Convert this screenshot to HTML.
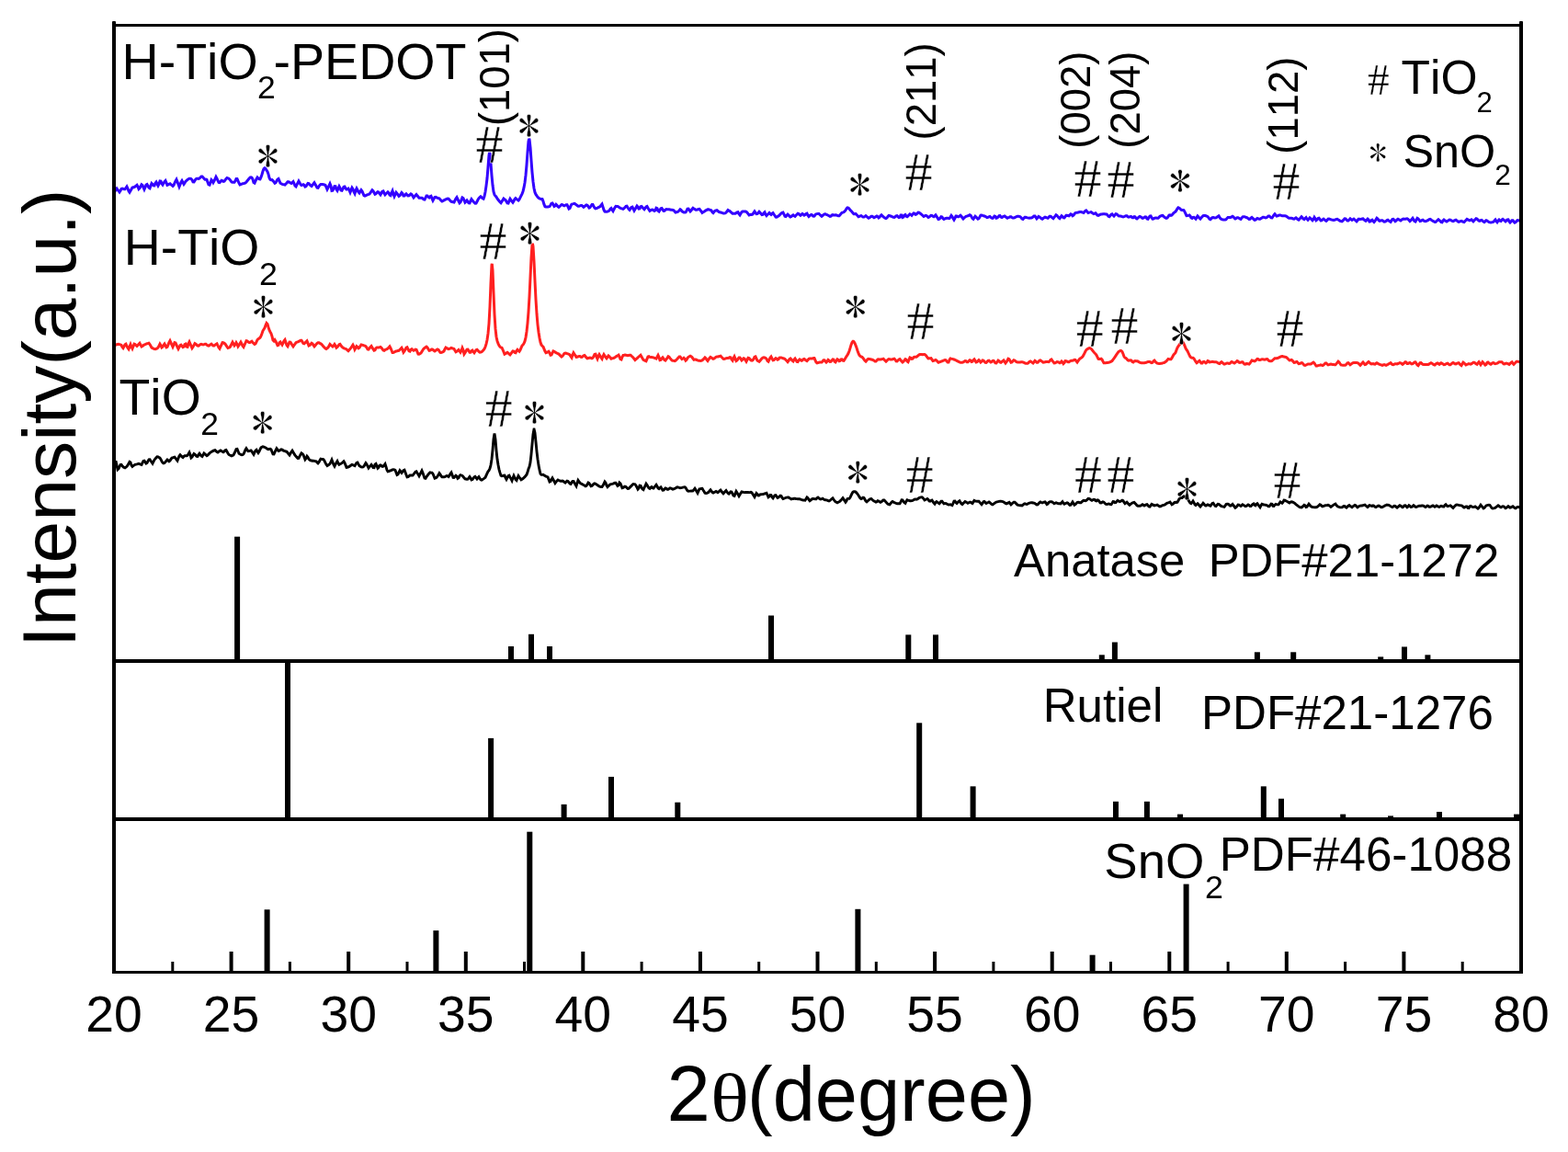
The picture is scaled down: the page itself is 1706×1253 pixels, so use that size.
<!DOCTYPE html><html><head><meta charset="utf-8"><title>XRD</title><style>html,body{margin:0;padding:0;background:#fff;}svg{display:block} text{font-kerning:none;font-feature-settings:"kern" 0;}</style></head><body>
<svg width="1706" height="1253" viewBox="0 0 1706 1253">
<rect x="0" y="0" width="1706" height="1253" fill="#fff"/>
<path d="M124.0,507.0L125.0,504.0L126.0,501.3L127.0,506.0L128.0,510.7L129.0,509.8L130.0,507.7L131.0,505.5L132.0,505.3L133.0,506.6L134.0,507.8L135.0,508.5L136.0,508.9L137.0,508.2L138.0,507.2L139.0,506.0L140.0,504.1L141.0,502.3L142.0,503.0L143.0,506.1L144.0,507.5L145.0,506.7L146.0,505.9L147.0,505.3L148.0,505.1L149.0,504.9L150.0,504.6L151.0,504.3L152.0,504.7L153.0,505.2L154.0,505.5L155.0,503.4L156.0,501.4L157.0,501.1L158.0,502.6L159.0,504.1L160.0,503.5L161.0,501.6L162.0,499.8L163.0,499.7L164.0,501.2L165.0,502.7L166.0,504.2L167.0,502.2L168.0,500.2L169.0,498.9L170.0,497.8L171.0,496.8L172.0,496.9L173.0,497.6L174.0,498.2L175.0,499.7L176.0,501.7L177.0,503.2L178.0,503.9L179.0,503.6L180.0,502.4L181.0,501.2L182.0,500.0L183.0,500.9L184.0,501.9L185.0,501.1L186.0,499.4L187.0,498.1L188.0,497.8L189.0,497.5L190.0,497.2L191.0,498.4L192.0,499.8L193.0,501.1L194.0,498.5L195.0,495.9L196.0,494.7L197.0,495.7L198.0,496.8L199.0,497.5L200.0,496.4L201.0,495.7L202.0,495.8L203.0,495.8L204.0,495.4L205.0,493.7L206.0,492.0L207.0,494.4L208.0,497.9L209.0,497.1L210.0,495.3L211.0,493.5L212.0,494.1L213.0,495.2L214.0,496.4L215.0,496.5L216.0,494.6L217.0,493.2L218.0,494.6L219.0,496.0L220.0,496.6L221.0,494.8L222.0,493.0L223.0,493.8L224.0,494.7L225.0,495.7L226.0,495.1L227.0,494.0L228.0,492.9L229.0,492.1L230.0,491.4L231.0,490.9L232.0,490.4L233.0,489.9L234.0,489.6L235.0,490.6L236.0,491.5L237.0,492.0L238.0,491.2L239.0,490.5L240.0,489.9L241.0,490.6L242.0,491.2L243.0,491.8L244.0,490.9L245.0,489.7L246.0,489.4L247.0,491.2L248.0,493.0L249.0,494.5L250.0,495.0L251.0,495.4L252.0,495.9L253.0,495.5L254.0,494.9L255.0,493.0L256.0,490.8L257.0,488.5L258.0,488.4L259.0,490.8L260.0,493.2L261.0,493.9L262.0,494.5L263.0,494.8L264.0,494.6L265.0,493.9L266.0,491.6L267.0,489.3L268.0,487.7L269.0,489.2L270.0,490.7L271.0,490.6L272.0,490.3L273.0,489.9L274.0,490.8L275.0,492.9L276.0,494.4L277.0,492.2L278.0,490.1L279.0,489.3L280.0,491.0L281.0,492.6L282.0,491.0L283.0,488.9L284.0,486.8L285.0,486.2L286.0,485.7L287.0,486.0L288.0,486.5L289.0,487.0L290.0,487.6L291.0,488.4L292.0,488.7L293.0,488.3L294.0,488.2L295.0,489.0L296.0,491.5L297.0,493.9L298.0,494.0L299.0,491.9L300.0,489.7L301.0,487.8L302.0,489.1L303.0,490.5L304.0,490.1L305.0,489.5L306.0,488.8L307.0,489.1L308.0,489.9L309.0,490.4L310.0,490.7L311.0,491.0L312.0,491.3L313.0,492.5L314.0,493.8L315.0,495.0L316.0,493.2L317.0,491.5L318.0,490.1L319.0,491.8L320.0,493.4L321.0,495.1L322.0,496.4L323.0,497.4L324.0,498.4L325.0,498.3L326.0,496.4L327.0,494.4L328.0,492.8L329.0,493.5L330.0,494.7L331.0,497.2L332.0,499.8L333.0,498.5L334.0,496.2L335.0,497.4L336.0,499.4L337.0,500.3L338.0,500.8L339.0,501.0L340.0,501.2L341.0,501.3L342.0,501.4L343.0,501.6L344.0,501.9L345.0,502.9L346.0,503.9L347.0,502.7L348.0,500.8L349.0,499.1L350.0,499.3L351.0,499.5L352.0,499.7L353.0,501.3L354.0,503.3L355.0,505.3L356.0,506.5L357.0,505.9L358.0,505.3L359.0,504.4L360.0,502.3L361.0,500.1L362.0,502.7L363.0,505.4L364.0,507.2L365.0,505.2L366.0,503.2L367.0,501.6L368.0,503.8L369.0,505.3L370.0,504.8L371.0,504.3L372.0,503.7L373.0,502.7L374.0,501.8L375.0,503.4L376.0,505.9L377.0,508.4L378.0,508.3L379.0,507.9L380.0,507.4L381.0,506.7L382.0,506.0L383.0,505.3L384.0,505.7L385.0,506.3L386.0,506.7L387.0,505.1L388.0,503.5L389.0,503.1L390.0,504.9L391.0,506.6L392.0,507.2L393.0,507.9L394.0,508.1L395.0,507.9L396.0,507.1L397.0,505.3L398.0,503.6L399.0,504.9L400.0,507.0L401.0,509.0L402.0,507.8L403.0,506.6L404.0,505.4L405.0,506.8L406.0,508.7L407.0,508.8L408.0,505.1L409.0,504.4L410.0,506.8L411.0,509.2L412.0,508.3L413.0,506.1L414.0,505.8L415.0,506.6L416.0,507.5L417.0,507.3L418.0,506.0L419.0,504.6L420.0,507.7L421.0,511.2L422.0,512.9L423.0,512.6L424.0,512.2L425.0,511.8L426.0,511.4L427.0,510.9L428.0,510.8L429.0,510.9L430.0,511.3L431.0,513.9L432.0,516.5L433.0,516.0L434.0,513.8L435.0,511.7L436.0,513.0L437.0,514.3L438.0,513.0L439.0,511.6L440.0,511.2L441.0,513.8L442.0,516.4L443.0,518.9L444.0,518.7L445.0,517.9L446.0,517.0L447.0,517.0L448.0,517.0L449.0,517.0L450.0,515.9L451.0,514.5L452.0,513.2L453.0,512.8L454.0,514.5L455.0,516.1L456.0,517.8L457.0,515.9L458.0,513.9L459.0,511.9L460.0,514.2L461.0,517.2L462.0,520.1L463.0,520.4L464.0,518.8L465.0,517.3L466.0,515.9L467.0,514.8L468.0,513.9L469.0,514.1L470.0,514.2L471.0,515.3L472.0,517.8L473.0,520.2L474.0,519.8L475.0,519.4L476.0,518.0L477.0,516.4L478.0,514.7L479.0,516.0L480.0,517.8L481.0,518.8L482.0,518.8L483.0,518.9L484.0,518.6L485.0,518.1L486.0,517.5L487.0,517.9L488.0,518.6L489.0,517.2L490.0,515.2L491.0,513.9L492.0,516.6L493.0,519.3L494.0,519.4L495.0,518.3L496.0,517.2L497.0,518.1L498.0,520.4L499.0,519.8L500.0,517.5L501.0,516.6L502.0,517.0L503.0,517.4L504.0,518.5L505.0,519.8L506.0,520.8L507.0,521.0L508.0,521.3L509.0,521.2L510.0,519.9L511.0,518.5L512.0,520.0L513.0,521.9L514.0,521.5L515.0,520.2L516.0,518.9L517.0,518.3L518.0,519.6L519.0,521.0L520.0,519.8L521.0,518.7L522.0,520.2L523.0,521.8L524.0,522.1L525.0,521.5L526.0,520.9L527.0,520.2L528.0,519.3L529.0,517.1L530.0,514.9L531.0,512.9L532.0,511.7L533.0,509.5L534.0,505.8L535.0,499.4L536.0,489.6L537.0,477.7L538.0,471.5L539.0,478.0L540.0,489.8L541.0,499.3L542.0,505.6L543.0,510.6L544.0,514.2L545.0,517.2L546.0,517.8L547.0,517.6L548.0,517.2L549.0,517.1L550.0,519.6L551.0,521.4L552.0,519.6L553.0,517.6L554.0,517.1L555.0,519.1L556.0,520.9L557.0,522.8L558.0,519.9L559.0,517.4L560.0,519.5L561.0,521.5L562.0,522.4L563.0,519.7L564.0,517.5L565.0,519.0L566.0,520.4L567.0,521.8L568.0,521.2L569.0,520.5L570.0,519.6L571.0,518.7L572.0,517.6L573.0,516.2L574.0,513.6L575.0,510.0L576.0,507.5L577.0,503.1L578.0,494.2L579.0,483.2L580.0,472.4L581.0,466.9L581.1,466.9L582.0,470.7L583.0,480.7L584.0,491.1L585.0,499.4L586.0,506.1L587.0,511.2L588.0,515.3L589.0,516.4L590.0,516.4L591.0,516.3L592.0,517.0L593.0,517.5L594.0,518.1L595.0,518.5L596.0,518.9L597.0,521.4L598.0,524.0L599.0,523.6L600.0,521.5L601.0,519.9L602.0,521.7L603.0,523.6L604.0,525.5L605.0,524.2L606.0,522.9L607.0,522.0L608.0,522.5L609.0,522.9L610.0,523.3L611.0,523.2L612.0,523.0L613.0,523.4L614.0,524.5L615.0,525.2L616.0,524.1L617.0,523.1L618.0,523.5L619.0,524.7L620.0,526.0L621.0,526.4L622.0,524.9L623.0,523.4L624.0,523.4L625.0,525.2L626.0,526.9L627.0,528.6L628.0,525.3L629.0,522.4L630.0,523.8L631.0,525.2L632.0,526.0L633.0,526.4L634.0,526.9L635.0,527.5L636.0,528.1L637.0,528.8L638.0,528.3L639.0,526.7L640.0,525.1L641.0,525.7L642.0,527.2L643.0,528.7L644.0,528.4L645.0,527.4L646.0,526.3L647.0,525.8L648.0,526.3L649.0,526.9L650.0,527.5L651.0,528.3L652.0,529.0L653.0,529.4L654.0,529.5L655.0,529.5L656.0,528.1L657.0,526.1L658.0,524.0L659.0,525.3L660.0,528.1L661.0,529.7L662.0,528.6L663.0,527.6L664.0,526.8L665.0,526.6L666.0,526.4L667.0,526.1L668.0,525.7L669.0,525.3L670.0,525.3L671.0,526.9L672.0,528.5L673.0,527.9L674.0,525.0L675.0,525.8L676.0,528.3L677.0,530.8L678.0,530.5L679.0,529.8L680.0,529.1L681.0,529.4L682.0,530.5L683.0,531.5L684.0,531.3L685.0,530.4L686.0,529.4L687.0,528.4L688.0,527.3L689.0,526.5L690.0,526.6L691.0,526.8L692.0,528.2L693.0,530.1L694.0,532.1L695.0,531.0L696.0,528.1L697.0,528.3L698.0,530.2L699.0,532.0L700.0,532.6L701.0,530.4L702.0,528.3L703.0,526.1L704.0,527.5L705.0,529.3L706.0,531.0L707.0,531.5L708.0,530.1L709.0,529.6L710.0,530.8L711.0,531.1L712.0,529.9L713.0,528.6L714.0,527.3L715.0,529.0L716.0,531.0L717.0,531.6L718.0,530.6L719.0,529.9L720.0,531.5L721.0,533.1L722.0,533.0L723.0,531.9L724.0,530.9L725.0,531.2L726.0,532.2L727.0,532.2L728.0,531.6L729.0,530.9L730.0,531.2L731.0,531.6L732.0,532.1L733.0,531.8L734.0,531.4L735.0,531.0L736.0,530.3L737.0,529.7L738.0,530.0L739.0,530.4L740.0,530.7L741.0,530.6L742.0,530.4L743.0,530.1L744.0,529.9L745.0,529.8L746.0,530.6L747.0,532.2L748.0,533.8L749.0,534.2L750.0,534.1L751.0,534.1L752.0,534.0L753.0,534.0L754.0,533.9L755.0,532.5L756.0,531.2L757.0,532.7L758.0,534.6L759.0,536.3L760.0,534.1L761.0,531.9L762.0,531.7L763.0,531.4L764.0,531.3L765.0,533.0L766.0,534.6L767.0,536.3L768.0,536.6L769.0,536.3L770.0,535.9L771.0,535.3L772.0,533.8L773.0,532.8L774.0,534.1L775.0,535.4L776.0,536.1L777.0,535.5L778.0,534.9L779.0,534.4L780.0,535.0L781.0,535.7L782.0,535.0L783.0,533.9L784.0,533.1L785.0,534.4L786.0,535.7L787.0,536.8L788.0,535.7L789.0,534.6L790.0,533.5L791.0,535.0L792.0,536.5L793.0,537.1L794.0,536.0L795.0,534.9L796.0,535.1L797.0,537.1L798.0,539.1L799.0,539.4L800.0,536.9L801.0,534.4L802.0,536.0L803.0,537.9L804.0,539.7L805.0,538.0L806.0,536.3L807.0,534.9L808.0,535.1L809.0,535.4L810.0,535.6L811.0,535.5L812.0,535.5L813.0,535.5L814.0,535.5L815.0,535.6L816.0,535.5L817.0,535.3L818.0,535.8L819.0,537.4L820.0,538.9L821.0,540.5L822.0,538.6L823.0,536.5L824.0,537.4L825.0,539.0L826.0,538.8L827.0,537.8L828.0,537.7L829.0,537.6L830.0,537.5L831.0,537.3L832.0,536.9L833.0,536.6L834.0,536.3L835.0,538.5L836.0,540.8L837.0,540.1L838.0,538.3L839.0,538.5L840.0,540.8L841.0,541.9L842.0,540.3L843.0,538.8L844.0,538.6L845.0,540.0L846.0,541.4L847.0,541.0L848.0,540.0L849.0,539.1L850.0,539.5L851.0,541.4L852.0,542.6L853.0,542.2L854.0,541.8L855.0,541.3L856.0,541.1L857.0,541.0L858.0,541.0L859.0,541.7L860.0,542.3L861.0,542.9L862.0,542.7L863.0,542.5L864.0,542.3L865.0,542.3L866.0,542.5L867.0,542.6L868.0,542.7L869.0,542.8L870.0,542.8L871.0,543.1L872.0,543.5L873.0,543.9L874.0,544.0L875.0,544.1L876.0,544.2L877.0,542.6L878.0,540.9L879.0,541.8L880.0,543.4L881.0,544.7L882.0,544.0L883.0,543.2L884.0,542.5L885.0,542.4L886.0,542.6L887.0,542.9L888.0,542.8L889.0,541.6L890.0,541.0L891.0,541.8L892.0,542.6L893.0,542.9L894.0,542.6L895.0,542.2L896.0,542.9L897.0,543.6L898.0,543.7L899.0,543.8L900.0,544.2L901.0,544.6L902.0,545.0L903.0,544.4L904.0,543.5L905.0,542.5L906.0,541.8L907.0,543.3L908.0,544.7L909.0,545.8L910.0,546.3L911.0,546.8L912.0,546.3L913.0,545.8L914.0,545.1L915.0,544.0L916.0,542.9L917.0,541.7L918.0,543.1L919.0,544.6L920.0,546.1L921.0,544.7L922.0,542.5L923.0,542.4L924.0,542.4L925.0,541.0L926.0,538.9L927.0,536.8L928.0,535.2L929.0,534.7L930.0,534.7L931.0,535.1L932.0,536.1L933.0,537.3L934.0,538.8L935.0,540.4L936.0,541.9L937.0,542.6L938.0,542.0L939.0,541.1L940.0,541.5L941.0,543.3L942.0,545.1L943.0,545.9L944.0,545.0L945.0,544.0L946.0,543.2L947.0,542.6L948.0,542.5L949.0,543.5L950.0,544.4L951.0,545.0L952.0,545.6L953.0,546.2L954.0,545.8L955.0,544.7L956.0,545.1L957.0,545.7L958.0,546.3L959.0,545.8L960.0,544.9L961.0,544.0L962.0,543.9L963.0,545.0L964.0,546.1L965.0,547.3L966.0,548.2L967.0,548.5L968.0,548.8L969.0,547.7L970.0,546.2L971.0,545.4L972.0,546.0L973.0,546.6L974.0,547.0L975.0,547.4L976.0,547.7L977.0,547.7L978.0,547.7L979.0,547.7L980.0,546.1L981.0,543.9L982.0,544.0L983.0,545.3L984.0,546.6L985.0,547.3L986.0,545.2L987.0,543.7L988.0,544.1L989.0,544.4L990.0,544.7L991.0,544.7L992.0,544.6L993.0,544.3L994.0,543.8L995.0,543.2L996.0,542.9L997.0,543.2L998.0,542.9L999.0,542.2L1000.0,541.5L1001.0,541.1L1002.0,540.9L1003.0,540.7L1003.9,541.4L1004.0,541.5L1005.0,542.6L1006.0,543.9L1007.0,543.5L1008.0,543.0L1009.0,542.5L1010.0,543.4L1011.0,544.9L1012.0,545.2L1013.0,544.6L1014.0,544.1L1015.0,545.6L1016.0,547.1L1017.0,548.1L1018.0,546.5L1019.0,545.6L1020.0,546.3L1021.0,547.1L1022.0,547.8L1023.0,546.5L1024.0,545.2L1025.0,545.2L1026.0,546.7L1027.0,547.9L1028.0,547.7L1029.0,547.5L1030.0,548.0L1031.0,548.6L1032.0,549.1L1033.0,548.9L1034.0,548.8L1035.0,549.2L1036.0,549.6L1037.0,547.5L1038.0,545.1L1039.0,545.0L1040.0,546.6L1041.0,547.5L1042.0,546.4L1043.0,545.4L1044.0,544.8L1045.0,546.4L1046.0,547.9L1047.0,548.6L1048.0,547.5L1049.0,546.5L1050.0,545.5L1051.0,546.0L1052.0,546.6L1053.0,547.3L1054.0,546.8L1055.0,546.2L1056.0,546.2L1057.0,547.0L1058.0,547.5L1059.0,545.9L1060.0,544.4L1061.0,544.8L1062.0,545.1L1063.0,545.2L1064.0,545.3L1065.0,545.3L1066.0,546.4L1067.0,547.6L1068.0,548.7L1069.0,547.4L1070.0,545.8L1071.0,545.5L1072.0,546.5L1073.0,547.4L1074.0,546.9L1075.0,546.5L1076.0,546.0L1077.0,546.7L1078.0,547.6L1079.0,548.5L1080.0,548.9L1081.0,548.2L1082.0,547.4L1083.0,546.6L1084.0,546.0L1085.0,545.8L1086.0,545.6L1087.0,545.4L1088.0,545.3L1089.0,545.3L1090.0,545.4L1091.0,545.7L1092.0,546.0L1093.0,546.7L1094.0,547.4L1095.0,547.9L1096.0,547.4L1097.0,546.9L1098.0,546.3L1099.0,547.5L1100.0,548.8L1101.0,547.9L1102.0,547.0L1103.0,546.1L1104.0,546.1L1105.0,547.1L1106.0,548.1L1107.0,549.1L1108.0,549.4L1109.0,549.6L1110.0,549.7L1111.0,549.8L1112.0,549.9L1113.0,549.2L1114.0,548.1L1115.0,547.7L1116.0,548.1L1117.0,548.4L1118.0,548.1L1119.0,547.5L1120.0,547.1L1121.0,546.9L1122.0,546.7L1123.0,546.8L1124.0,547.0L1125.0,547.2L1126.0,547.5L1127.0,548.3L1128.0,549.0L1129.0,548.8L1130.0,547.7L1131.0,546.7L1132.0,546.0L1133.0,546.5L1134.0,546.9L1135.0,546.5L1136.0,546.1L1137.0,545.8L1138.0,546.9L1139.0,548.6L1140.0,548.1L1141.0,546.6L1142.0,545.9L1143.0,545.8L1144.0,545.8L1145.0,546.1L1146.0,547.0L1147.0,547.8L1148.0,547.3L1149.0,546.8L1150.0,547.2L1151.0,547.5L1152.0,547.7L1153.0,547.8L1154.0,547.9L1155.0,546.8L1156.0,545.7L1157.0,547.2L1158.0,548.3L1159.0,547.8L1160.0,547.3L1161.0,546.8L1162.0,547.3L1163.0,548.4L1164.0,549.4L1165.0,549.2L1166.0,547.5L1167.0,545.9L1168.0,547.5L1169.0,549.2L1170.0,548.6L1171.0,547.6L1172.0,546.5L1173.0,546.2L1174.0,546.5L1175.0,546.8L1176.0,546.8L1177.0,545.9L1178.0,544.9L1179.0,544.3L1180.0,544.5L1181.0,544.7L1182.0,544.3L1183.0,543.2L1184.0,542.2L1185.0,542.4L1186.0,543.0L1186.5,543.4L1187.0,543.7L1188.0,544.3L1189.0,543.7L1190.0,543.2L1191.0,543.4L1192.0,544.7L1193.0,544.9L1194.0,543.8L1195.0,544.1L1196.0,545.4L1197.0,546.8L1198.0,546.9L1199.0,546.4L1200.0,545.9L1201.0,546.2L1202.0,547.2L1203.0,548.2L1204.0,548.5L1205.0,548.3L1206.0,548.0L1207.0,548.1L1208.0,548.7L1209.0,548.8L1210.0,547.2L1211.0,545.5L1212.0,545.7L1213.0,546.7L1214.0,546.6L1215.0,545.4L1216.0,544.3L1217.0,544.9L1218.0,545.6L1219.0,545.4L1220.0,544.7L1221.0,544.2L1222.0,544.6L1223.0,546.5L1224.0,547.7L1225.0,546.9L1226.0,546.2L1227.0,547.3L1228.0,548.4L1229.0,549.3L1230.0,548.5L1231.0,547.6L1232.0,547.0L1233.0,546.6L1234.0,546.4L1235.0,547.5L1236.0,548.6L1237.0,549.7L1238.0,550.2L1239.0,550.2L1240.0,550.3L1241.0,550.2L1242.0,549.4L1243.0,548.7L1244.0,549.3L1245.0,550.0L1246.0,549.5L1247.0,548.9L1248.0,548.6L1249.0,549.7L1250.0,550.9L1251.0,551.1L1252.0,549.8L1253.0,548.4L1254.0,548.9L1255.0,549.4L1256.0,549.9L1257.0,549.6L1258.0,549.4L1259.0,549.1L1260.0,549.8L1261.0,550.4L1262.0,551.0L1263.0,550.7L1264.0,550.1L1265.0,549.7L1266.0,549.4L1267.0,549.2L1268.0,548.5L1269.0,547.6L1270.0,547.1L1271.0,546.9L1272.0,546.5L1273.0,546.1L1274.0,547.3L1275.0,548.8L1276.0,548.3L1277.0,547.4L1278.0,546.4L1279.0,546.3L1280.0,546.5L1281.0,546.2L1282.0,544.5L1283.0,542.7L1284.0,541.8L1285.0,541.6L1286.0,541.6L1287.0,540.6L1287.8,539.9L1288.0,539.8L1289.0,540.1L1290.0,541.0L1291.0,541.8L1292.0,542.6L1293.0,544.0L1294.0,545.6L1295.0,547.1L1296.0,547.7L1297.0,546.5L1298.0,545.0L1299.0,546.7L1300.0,548.7L1301.0,549.5L1302.0,548.5L1303.0,547.7L1304.0,548.8L1305.0,549.9L1306.0,551.0L1307.0,549.8L1308.0,548.6L1309.0,547.3L1310.0,548.3L1311.0,549.6L1312.0,550.1L1313.0,549.4L1314.0,548.8L1315.0,549.2L1316.0,549.9L1317.0,550.2L1318.0,548.9L1319.0,547.6L1320.0,547.3L1321.0,548.8L1322.0,550.2L1323.0,550.5L1324.0,549.4L1325.0,548.3L1326.0,548.4L1327.0,549.2L1328.0,550.0L1329.0,550.6L1330.0,550.9L1331.0,551.1L1332.0,551.4L1333.0,550.2L1334.0,548.5L1335.0,548.2L1336.0,548.2L1337.0,548.6L1338.0,549.9L1339.0,550.2L1340.0,549.3L1341.0,548.4L1342.0,549.7L1343.0,551.0L1344.0,552.3L1345.0,551.7L1346.0,550.4L1347.0,549.1L1348.0,549.2L1349.0,549.9L1350.0,550.5L1351.0,549.7L1352.0,548.8L1353.0,549.4L1354.0,550.1L1355.0,550.7L1356.0,550.4L1357.0,549.7L1358.0,549.0L1359.0,549.5L1360.0,550.5L1361.0,550.5L1362.0,549.5L1363.0,548.4L1364.0,547.9L1365.0,549.4L1366.0,549.9L1367.0,548.4L1368.0,547.7L1369.0,549.0L1370.0,550.4L1371.0,551.7L1372.0,549.8L1373.0,548.2L1374.0,548.6L1375.0,549.0L1376.0,549.1L1377.0,549.2L1378.0,549.5L1379.0,550.1L1380.0,550.7L1381.0,550.7L1382.0,549.4L1383.0,548.1L1384.0,548.3L1385.0,550.4L1386.0,550.5L1387.0,549.2L1388.0,548.4L1389.0,548.7L1390.0,548.9L1391.0,548.8L1392.0,547.3L1393.0,545.9L1394.0,546.4L1395.0,547.3L1396.0,546.2L1397.0,544.0L1398.0,544.1L1398.6,544.5L1399.0,544.7L1400.0,545.3L1401.0,545.8L1402.0,546.4L1403.0,547.0L1404.0,546.2L1405.0,545.7L1406.0,546.0L1407.0,546.3L1408.0,546.9L1409.0,547.7L1410.0,548.6L1411.0,549.4L1412.0,550.2L1413.0,550.9L1414.0,551.6L1415.0,551.8L1416.0,551.9L1417.0,551.3L1418.0,550.3L1419.0,549.3L1420.0,549.9L1421.0,551.5L1422.0,551.2L1423.0,549.7L1424.0,548.2L1425.0,549.3L1426.0,550.6L1427.0,551.2L1428.0,551.5L1429.0,551.7L1430.0,551.9L1431.0,551.8L1432.0,551.7L1433.0,551.5L1434.0,550.7L1435.0,549.7L1436.0,548.7L1437.0,549.2L1438.0,550.3L1439.0,550.9L1440.0,550.5L1441.0,550.1L1442.0,549.7L1443.0,549.6L1444.0,549.5L1445.0,549.3L1446.0,549.7L1447.0,550.5L1448.0,551.4L1449.0,550.6L1450.0,549.8L1451.0,549.1L1452.0,548.5L1453.0,548.1L1454.0,549.5L1455.0,550.6L1456.0,551.1L1457.0,551.5L1458.0,551.9L1459.0,551.9L1460.0,551.9L1461.0,551.2L1462.0,550.5L1463.0,550.4L1464.0,551.6L1465.0,552.2L1466.0,551.1L1467.0,550.1L1468.0,549.5L1469.0,550.3L1470.0,551.1L1471.0,551.7L1472.0,550.9L1473.0,550.1L1474.0,549.4L1475.0,549.8L1476.0,550.9L1477.0,551.8L1478.0,551.1L1479.0,550.4L1480.0,550.1L1481.0,550.0L1482.0,550.0L1483.0,549.7L1484.0,549.4L1485.0,549.1L1486.0,550.0L1487.0,550.8L1488.0,551.6L1489.0,550.8L1490.0,549.6L1491.0,549.8L1492.0,550.3L1493.0,550.4L1494.0,549.9L1495.0,550.2L1496.0,551.2L1497.0,551.7L1498.0,551.1L1499.0,550.4L1500.0,550.0L1501.0,550.6L1502.0,551.2L1503.0,551.8L1504.0,551.6L1505.0,551.0L1506.0,550.5L1507.0,549.9L1508.0,549.5L1509.0,549.1L1510.0,549.3L1511.0,549.4L1512.0,549.9L1513.0,550.6L1514.0,551.3L1515.0,551.6L1516.0,550.9L1517.0,550.2L1518.0,550.4L1519.0,551.4L1520.0,552.1L1521.0,551.3L1522.0,550.5L1523.0,549.7L1524.0,550.3L1525.0,551.0L1526.0,551.7L1527.0,551.2L1528.0,549.8L1529.0,549.7L1530.0,550.8L1531.0,551.8L1532.0,551.0L1533.0,549.7L1534.0,550.3L1535.0,551.5L1536.0,551.4L1537.0,550.6L1538.0,549.7L1539.0,550.4L1540.0,551.4L1541.0,551.5L1542.0,551.0L1543.0,550.5L1544.0,550.2L1545.0,550.2L1546.0,550.2L1547.0,550.0L1548.0,549.9L1549.0,550.3L1550.0,551.0L1551.0,551.6L1552.0,550.9L1553.0,550.0L1554.0,550.2L1555.0,551.4L1556.0,551.4L1557.0,550.9L1558.0,550.3L1559.0,549.9L1560.0,550.6L1561.0,551.3L1562.0,550.7L1563.0,550.0L1564.0,550.5L1565.0,551.2L1566.0,551.5L1567.0,550.7L1568.0,550.3L1569.0,550.6L1570.0,551.0L1571.0,551.0L1572.0,549.5L1573.0,548.7L1574.0,550.0L1575.0,550.7L1576.0,550.4L1577.0,550.2L1578.0,549.9L1579.0,550.7L1580.0,551.6L1581.0,552.4L1582.0,551.3L1583.0,550.3L1584.0,549.3L1585.0,549.0L1586.0,549.2L1587.0,549.4L1588.0,549.6L1589.0,549.8L1590.0,549.9L1591.0,550.2L1592.0,551.4L1593.0,552.1L1594.0,551.5L1595.0,550.9L1596.0,550.9L1597.0,552.4L1598.0,552.6L1599.0,550.9L1600.0,550.4L1601.0,550.9L1602.0,551.3L1603.0,551.6L1604.0,551.3L1605.0,550.9L1606.0,551.6L1607.0,552.4L1608.0,553.2L1609.0,552.3L1610.0,550.7L1611.0,549.2L1612.0,550.4L1613.0,551.7L1614.0,552.9L1615.0,552.3L1616.0,551.1L1617.0,549.9L1618.0,549.6L1619.0,549.4L1620.0,549.2L1621.0,549.5L1622.0,551.0L1623.0,552.5L1624.0,553.0L1625.0,552.8L1626.0,552.6L1627.0,552.2L1628.0,551.4L1629.0,550.6L1630.0,549.8L1631.0,550.5L1632.0,551.3L1633.0,551.8L1634.0,551.2L1635.0,550.7L1636.0,550.8L1637.0,551.7L1638.0,552.7L1639.0,552.2L1640.0,551.4L1641.0,550.6L1642.0,551.3L1643.0,552.2L1644.0,551.9L1645.0,551.3L1646.0,550.8L1647.0,551.6L1648.0,552.4L1649.0,552.9L1650.0,552.2L1651.0,551.4L1652.0,551.5L1653.0,551.8L1654.0,551.6L1655.0,551.1" fill="none" stroke="#000000" stroke-width="2.9" stroke-linejoin="miter" stroke-miterlimit="3"/>
<path d="M124.0,376.7L125.0,375.9L126.0,375.1L127.0,374.7L128.0,374.4L129.0,374.3L130.0,374.6L131.0,374.9L132.0,375.4L133.0,377.3L134.0,378.5L135.0,376.7L136.0,374.9L137.0,374.2L138.0,376.3L139.0,378.4L140.0,379.7L141.0,377.1L142.0,374.6L143.0,377.2L144.0,379.2L145.0,376.7L146.0,374.2L147.0,374.6L148.0,375.5L149.0,376.4L150.0,375.5L151.0,374.3L152.0,373.3L153.0,375.1L154.0,377.0L155.0,376.4L156.0,375.6L157.0,375.0L158.0,374.5L159.0,374.1L160.0,373.7L161.0,373.5L162.0,373.2L163.0,374.6L164.0,376.3L165.0,378.1L166.0,378.7L167.0,379.2L168.0,379.6L169.0,379.8L170.0,379.3L171.0,378.9L172.0,378.0L173.0,376.1L174.0,374.1L175.0,375.6L176.0,378.0L177.0,377.3L178.0,375.2L179.0,374.0L180.0,375.9L181.0,377.8L182.0,377.4L183.0,374.9L184.0,372.5L185.0,370.6L186.0,372.9L187.0,375.1L188.0,377.3L189.0,375.1L190.0,372.6L191.0,372.9L192.0,375.2L193.0,377.5L194.0,379.5L195.0,377.6L196.0,375.7L197.0,375.2L198.0,376.4L199.0,377.6L200.0,377.2L201.0,374.5L202.0,374.0L203.0,377.0L204.0,377.3L205.0,373.8L206.0,371.8L207.0,374.1L208.0,376.4L209.0,378.7L210.0,377.3L211.0,375.4L212.0,373.5L213.0,374.1L214.0,375.1L215.0,376.1L216.0,376.2L217.0,375.4L218.0,374.6L219.0,374.4L220.0,374.6L221.0,374.9L222.0,374.6L223.0,374.2L224.0,374.3L225.0,375.1L226.0,375.9L227.0,376.1L228.0,375.4L229.0,374.8L230.0,374.2L231.0,375.1L232.0,376.0L233.0,376.0L234.0,375.2L235.0,374.4L236.0,373.8L237.0,375.8L238.0,377.9L239.0,379.2L240.0,377.0L241.0,374.8L242.0,372.6L243.0,372.8L244.0,373.3L245.0,374.1L246.0,375.6L247.0,377.1L248.0,378.4L249.0,378.1L250.0,377.7L251.0,376.2L252.0,374.2L253.0,372.2L254.0,374.0L255.0,375.8L256.0,374.6L257.0,372.6L258.0,374.3L259.0,376.9L260.0,375.5L261.0,373.8L262.0,372.1L263.0,373.9L264.0,376.2L265.0,377.4L266.0,375.2L267.0,373.0L268.0,370.8L269.0,371.0L270.0,371.8L271.0,372.5L272.0,372.5L273.0,371.8L274.0,371.2L275.0,372.4L276.0,373.5L277.0,374.5L278.0,374.0L279.0,371.9L280.0,369.7L281.0,368.7L282.0,368.1L283.0,367.2L284.0,365.4L285.0,362.7L286.0,359.8L287.0,358.2L288.0,356.7L289.0,353.7L290.0,351.4L291.0,352.5L292.0,355.9L293.0,359.0L294.0,361.0L295.0,362.8L296.0,365.9L297.0,370.0L298.0,371.0L299.0,369.6L300.0,371.2L301.0,373.5L302.0,375.7L303.0,375.4L304.0,372.6L305.0,371.9L306.0,373.5L307.0,375.0L308.0,373.1L309.0,370.8L310.0,369.6L311.0,372.5L312.0,375.4L313.0,376.6L314.0,374.3L315.0,372.0L316.0,372.1L317.0,373.7L318.0,375.4L319.0,376.8L320.0,375.4L321.0,374.1L322.0,372.7L323.0,372.2L324.0,371.8L325.0,371.3L326.0,370.8L327.0,370.3L328.0,370.3L329.0,371.9L330.0,373.5L331.0,373.8L332.0,372.8L333.0,371.9L334.0,370.9L335.0,373.4L336.0,376.0L337.0,375.6L338.0,374.4L339.0,373.2L340.0,373.9L341.0,375.4L342.0,376.8L343.0,375.7L344.0,374.4L345.0,373.5L346.0,372.7L347.0,372.8L348.0,373.4L349.0,373.9L350.0,374.6L351.0,375.8L352.0,376.9L353.0,378.0L354.0,378.9L355.0,379.4L356.0,378.7L357.0,378.0L358.0,376.2L359.0,374.4L360.0,375.3L361.0,376.1L362.0,377.0L363.0,376.0L364.0,374.5L365.0,375.9L366.0,378.2L367.0,377.4L368.0,376.1L369.0,374.8L370.0,374.4L371.0,375.8L372.0,377.2L373.0,378.0L374.0,378.6L375.0,379.1L376.0,379.3L377.0,379.9L378.0,380.8L379.0,381.7L380.0,380.6L381.0,379.4L382.0,378.1L383.0,376.7L384.0,375.2L385.0,377.1L386.0,380.2L387.0,378.6L388.0,376.6L389.0,377.5L390.0,378.8L391.0,378.1L392.0,376.5L393.0,375.0L394.0,375.2L395.0,375.4L396.0,375.8L397.0,376.2L398.0,376.6L399.0,378.1L400.0,379.8L401.0,380.0L402.0,378.7L403.0,377.5L404.0,376.5L405.0,378.1L406.0,379.7L407.0,381.2L408.0,380.8L409.0,378.7L410.0,378.0L411.0,378.1L412.0,378.0L413.0,377.8L414.0,377.5L415.0,378.3L416.0,379.6L417.0,381.0L418.0,381.3L419.0,380.5L420.0,380.0L421.0,379.6L422.0,379.0L423.0,377.9L424.0,376.8L425.0,378.6L426.0,381.0L427.0,383.5L428.0,383.5L429.0,383.0L430.0,382.4L431.0,382.0L432.0,381.8L433.0,381.5L434.0,381.3L435.0,380.3L436.0,379.4L437.0,378.4L438.0,380.4L439.0,383.2L440.0,381.9L441.0,380.1L442.0,378.2L443.0,377.7L444.0,379.8L445.0,381.8L446.0,382.1L447.0,380.2L448.0,379.6L449.0,380.7L450.0,381.3L451.0,380.7L452.0,380.0L453.0,380.2L454.0,382.6L455.0,385.0L456.0,385.1L457.0,384.7L458.0,384.0L459.0,382.4L460.0,380.8L461.0,379.2L462.0,378.5L463.0,377.8L464.0,377.1L465.0,378.0L466.0,379.7L467.0,381.3L468.0,381.0L469.0,380.4L470.0,379.9L471.0,380.3L472.0,381.2L473.0,381.9L474.0,381.2L475.0,380.5L476.0,379.9L477.0,380.4L478.0,381.9L479.0,383.3L480.0,383.5L481.0,383.1L482.0,382.6L483.0,381.9L484.0,379.6L485.0,378.0L486.0,378.6L487.0,379.1L488.0,379.7L489.0,379.3L490.0,378.9L491.0,378.4L492.0,378.8L493.0,379.1L494.0,379.5L495.0,381.2L496.0,382.8L497.0,382.3L498.0,381.4L499.0,380.5L500.0,381.9L501.0,383.3L502.0,381.5L503.0,378.5L504.0,380.8L505.0,385.1L506.0,383.7L507.0,381.9L508.0,380.1L509.0,380.0L510.0,381.6L511.0,383.3L512.0,383.3L513.0,381.7L514.0,381.1L515.0,382.5L516.0,383.7L517.0,382.2L518.0,380.6L519.0,380.2L520.0,381.3L521.0,382.4L522.0,383.2L523.0,383.0L524.0,382.6L525.0,381.8L526.0,380.8L527.0,379.5L528.0,377.3L529.0,374.2L530.0,369.8L531.0,362.9L532.0,352.1L533.0,333.8L534.0,308.3L535.0,288.3L535.3,286.8L536.0,293.9L537.0,318.6L538.0,341.8L539.0,357.4L540.0,366.2L541.0,370.9L542.0,373.6L543.0,375.8L544.0,377.2L545.0,377.9L546.0,378.2L547.0,380.3L548.0,382.8L549.0,385.2L550.0,384.8L551.0,384.0L552.0,383.3L553.0,384.2L554.0,385.0L555.0,385.8L556.0,384.6L557.0,383.2L558.0,381.8L559.0,382.0L560.0,383.5L561.0,383.7L562.0,381.6L563.0,380.3L564.0,381.4L565.0,382.2L566.0,380.7L567.0,378.4L568.0,376.0L569.0,375.0L570.0,373.6L571.0,371.2L572.0,367.1L573.0,360.7L574.0,351.6L575.0,339.2L576.0,322.6L577.0,301.9L578.0,280.5L579.0,266.2L579.4,264.8L580.0,267.9L581.0,284.1L582.0,305.8L583.0,325.8L584.0,341.5L585.0,353.1L586.0,361.3L587.0,367.6L588.0,372.3L589.0,375.1L590.0,376.2L591.0,377.2L592.0,379.6L593.0,382.0L594.0,383.7L595.0,383.4L596.0,382.9L597.0,382.3L598.0,383.8L599.0,386.2L600.0,385.9L601.0,383.9L602.0,381.8L603.0,382.2L604.0,383.0L605.0,383.7L606.0,384.2L607.0,384.6L608.0,385.1L609.0,386.1L610.0,387.1L611.0,388.1L612.0,387.3L613.0,385.9L614.0,384.4L615.0,384.0L616.0,384.3L617.0,384.6L618.0,384.9L619.0,385.3L620.0,385.9L621.0,387.7L622.0,389.0L623.0,386.0L624.0,383.7L625.0,385.2L626.0,386.8L627.0,388.4L628.0,388.3L629.0,387.8L630.0,387.4L631.0,387.4L632.0,388.3L633.0,388.4L634.0,387.6L635.0,386.8L636.0,386.5L637.0,387.7L638.0,388.9L639.0,389.9L640.0,389.6L641.0,389.3L642.0,389.0L643.0,389.4L644.0,389.9L645.0,389.3L646.0,387.3L647.0,385.4L648.0,385.2L649.0,388.1L650.0,390.3L651.0,387.4L652.0,385.5L653.0,387.2L654.0,388.9L655.0,390.3L656.0,387.5L657.0,385.5L658.0,387.0L659.0,388.5L660.0,389.7L661.0,388.3L662.0,386.9L663.0,387.7L664.0,389.1L665.0,390.2L666.0,389.9L667.0,389.6L668.0,389.3L669.0,388.7L670.0,388.0L671.0,387.3L672.0,386.8L673.0,386.2L674.0,388.2L675.0,390.6L676.0,391.0L677.0,388.3L678.0,386.3L679.0,386.2L680.0,386.0L681.0,386.2L682.0,386.6L683.0,386.7L684.0,386.5L685.0,386.3L686.0,386.3L687.0,387.2L688.0,388.0L689.0,389.0L690.0,390.3L691.0,391.6L692.0,390.7L693.0,389.8L694.0,388.9L695.0,388.0L696.0,387.1L697.0,386.3L698.0,388.0L699.0,389.8L700.0,391.4L701.0,391.9L702.0,392.3L703.0,392.8L704.0,390.4L705.0,387.9L706.0,387.6L707.0,388.4L708.0,388.6L709.0,388.6L710.0,388.7L711.0,388.9L712.0,389.3L713.0,389.7L714.0,390.1L715.0,388.3L716.0,386.4L717.0,388.6L718.0,391.7L719.0,391.5L720.0,389.9L721.0,388.8L722.0,390.2L723.0,391.5L724.0,392.1L725.0,390.7L726.0,389.3L727.0,387.8L728.0,388.3L729.0,389.6L730.0,390.8L731.0,391.9L732.0,392.2L733.0,392.4L734.0,392.7L735.0,392.2L736.0,391.2L737.0,390.2L738.0,389.1L739.0,387.9L740.0,387.9L741.0,389.3L742.0,390.6L743.0,390.1L744.0,389.3L745.0,390.3L746.0,392.1L747.0,391.2L748.0,389.4L749.0,388.3L750.0,387.7L751.0,387.2L752.0,387.8L753.0,388.6L754.0,390.1L755.0,391.3L756.0,391.1L757.0,391.1L758.0,391.5L759.0,391.9L760.0,392.2L761.0,392.3L762.0,392.4L763.0,392.2L764.0,391.8L765.0,391.1L766.0,390.0L767.0,388.9L768.0,389.7L769.0,391.3L770.0,392.5L771.0,391.0L772.0,389.5L773.0,388.4L774.0,389.0L775.0,389.7L776.0,390.4L777.0,390.0L778.0,389.1L779.0,388.3L780.0,388.1L781.0,388.0L782.0,387.7L783.0,387.4L784.0,387.2L785.0,388.3L786.0,389.3L787.0,390.3L788.0,390.5L789.0,390.1L790.0,389.7L791.0,389.6L792.0,389.6L793.0,389.3L794.0,388.7L795.0,388.9L796.0,391.0L797.0,392.1L798.0,389.6L799.0,387.7L800.0,390.1L801.0,392.5L802.0,391.9L803.0,390.4L804.0,388.9L805.0,388.9L806.0,390.4L807.0,392.0L808.0,391.1L809.0,389.8L810.0,390.1L811.0,391.6L812.0,393.2L813.0,391.3L814.0,389.3L815.0,389.6L816.0,390.8L817.0,392.0L818.0,392.2L819.0,391.7L820.0,390.3L821.0,388.3L822.0,387.9L823.0,390.1L824.0,392.2L825.0,392.8L826.0,393.3L827.0,392.3L828.0,391.0L829.0,389.8L830.0,389.1L831.0,388.8L832.0,388.9L833.0,389.5L834.0,390.4L835.0,392.5L836.0,393.2L837.0,391.2L838.0,389.2L839.0,388.0L840.0,389.9L841.0,391.7L842.0,391.5L843.0,390.5L844.0,389.6L845.0,390.2L846.0,391.2L847.0,390.8L848.0,389.2L849.0,389.0L850.0,389.1L851.0,389.4L852.0,389.7L853.0,390.0L854.0,390.4L855.0,391.5L856.0,392.5L857.0,393.6L858.0,392.3L859.0,390.6L860.0,390.0L861.0,391.1L862.0,392.2L863.0,393.0L864.0,391.1L865.0,390.0L866.0,391.6L867.0,393.3L868.0,393.5L869.0,391.9L870.0,390.9L871.0,391.6L872.0,392.3L873.0,391.9L874.0,390.8L875.0,390.4L876.0,391.2L877.0,391.9L878.0,392.6L879.0,391.5L880.0,390.4L881.0,390.1L882.0,390.1L883.0,390.1L884.0,390.0L885.0,389.5L886.0,389.5L887.0,391.8L888.0,394.0L889.0,394.8L890.0,394.5L891.0,394.2L892.0,394.1L893.0,394.1L894.0,394.0L895.0,392.9L896.0,391.7L897.0,391.7L898.0,392.9L899.0,394.0L900.0,393.0L901.0,391.4L902.0,392.2L903.0,393.4L904.0,393.3L905.0,392.1L906.0,390.9L907.0,391.1L908.0,393.3L909.0,393.9L910.0,392.3L911.0,390.8L912.0,391.4L913.0,392.7L914.0,392.4L915.0,390.9L916.0,390.8L917.0,392.2L918.0,392.3L919.0,390.9L920.0,389.2L921.0,387.5L922.0,386.2L923.0,384.3L924.0,381.8L925.0,378.6L926.0,375.2L927.0,372.6L928.0,371.3L928.4,371.3L929.0,371.7L930.0,373.1L931.0,375.6L932.0,378.2L933.0,381.4L934.0,384.1L935.0,386.3L936.0,387.4L937.0,388.0L938.0,388.3L939.0,389.4L940.0,390.9L941.0,392.3L942.0,393.1L943.0,392.0L944.0,390.8L945.0,390.4L946.0,390.6L947.0,390.7L948.0,391.0L949.0,391.3L950.0,391.6L951.0,392.2L952.0,393.0L953.0,393.0L954.0,392.0L955.0,390.9L956.0,390.8L957.0,390.9L958.0,391.0L959.0,390.8L960.0,390.6L961.0,390.3L962.0,391.2L963.0,392.2L964.0,393.2L965.0,392.2L966.0,391.1L967.0,390.5L968.0,390.7L969.0,390.9L970.0,391.0L971.0,390.8L972.0,390.5L973.0,390.2L974.0,391.1L975.0,392.9L976.0,393.0L977.0,392.0L978.0,391.0L979.0,390.6L980.0,391.8L981.0,392.9L982.0,394.0L983.0,393.1L984.0,391.9L985.0,390.7L986.0,391.2L987.0,392.9L988.0,393.7L989.0,391.3L990.0,388.9L991.0,389.2L992.0,390.4L993.0,390.2L994.0,388.7L995.0,388.2L996.0,388.3L997.0,388.3L998.0,387.5L999.0,386.6L1000.0,385.9L1001.0,385.5L1002.0,385.4L1002.3,385.4L1003.0,385.5L1004.0,385.7L1005.0,385.6L1006.0,385.5L1007.0,386.1L1008.0,387.4L1009.0,388.7L1010.0,389.9L1011.0,389.8L1012.0,389.7L1013.0,389.6L1014.0,391.1L1015.0,392.5L1016.0,392.3L1017.0,391.9L1018.0,391.4L1019.0,392.1L1020.0,393.3L1021.0,394.2L1022.0,393.8L1023.0,393.5L1024.0,393.1L1025.0,392.8L1026.0,392.4L1027.0,392.0L1028.0,391.5L1029.0,391.7L1030.0,392.9L1031.0,394.1L1032.0,394.1L1033.0,391.5L1034.0,389.9L1035.0,390.2L1036.0,390.4L1037.0,390.6L1038.0,391.0L1039.0,391.4L1040.0,391.8L1041.0,392.4L1042.0,392.9L1043.0,393.4L1044.0,393.9L1045.0,394.2L1046.0,394.2L1047.0,394.3L1048.0,393.9L1049.0,393.2L1050.0,392.5L1051.0,392.7L1052.0,393.8L1053.0,393.7L1054.0,392.7L1055.0,391.7L1056.0,392.1L1057.0,393.5L1058.0,393.2L1059.0,391.7L1060.0,390.8L1061.0,392.4L1062.0,394.0L1063.0,393.6L1064.0,392.6L1065.0,391.6L1066.0,392.6L1067.0,394.1L1068.0,393.3L1069.0,392.0L1070.0,392.2L1071.0,393.3L1072.0,394.3L1073.0,394.4L1074.0,393.4L1075.0,392.4L1076.0,392.2L1077.0,393.1L1078.0,394.0L1079.0,393.5L1080.0,392.4L1081.0,392.3L1082.0,393.5L1083.0,394.8L1084.0,394.9L1085.0,393.5L1086.0,392.1L1087.0,392.7L1088.0,393.9L1089.0,394.3L1090.0,393.5L1091.0,392.7L1092.0,391.9L1093.0,393.5L1094.0,395.0L1095.0,393.7L1096.0,392.0L1097.0,390.2L1098.0,390.6L1099.0,392.4L1100.0,394.2L1101.0,393.9L1102.0,392.8L1103.0,391.7L1104.0,392.0L1105.0,392.8L1106.0,393.7L1107.0,393.9L1108.0,393.9L1109.0,393.9L1110.0,393.9L1111.0,393.8L1112.0,393.8L1113.0,393.9L1114.0,394.3L1115.0,394.8L1116.0,395.3L1117.0,395.3L1118.0,395.2L1119.0,394.6L1120.0,393.4L1121.0,392.9L1122.0,393.6L1123.0,394.2L1124.0,394.9L1125.0,393.7L1126.0,392.4L1127.0,393.1L1128.0,394.3L1129.0,394.2L1130.0,393.2L1131.0,392.2L1132.0,391.9L1133.0,392.6L1134.0,393.4L1135.0,394.2L1136.0,394.1L1137.0,393.8L1138.0,393.5L1139.0,393.5L1140.0,393.6L1141.0,393.7L1142.0,392.8L1143.0,391.5L1144.0,390.9L1145.0,392.3L1146.0,393.6L1147.0,394.9L1148.0,394.8L1149.0,394.2L1150.0,393.6L1151.0,393.7L1152.0,394.2L1153.0,394.7L1154.0,394.2L1155.0,393.0L1156.0,394.0L1157.0,395.6L1158.0,394.7L1159.0,392.6L1160.0,392.7L1161.0,393.2L1162.0,393.7L1163.0,393.7L1164.0,393.0L1165.0,392.4L1166.0,392.3L1167.0,392.2L1168.0,391.8L1169.0,391.4L1170.0,391.5L1171.0,392.9L1172.0,394.0L1173.0,392.6L1174.0,391.2L1175.0,390.0L1176.0,389.5L1177.0,388.8L1178.0,387.9L1179.0,386.1L1180.0,384.1L1181.0,382.0L1182.0,380.5L1183.0,379.7L1184.0,379.1L1185.0,378.6L1185.5,378.5L1186.0,378.6L1187.0,379.3L1188.0,380.3L1189.0,381.6L1190.0,382.9L1191.0,384.0L1192.0,384.9L1193.0,386.3L1194.0,388.4L1195.0,390.3L1196.0,390.5L1197.0,390.4L1198.0,390.2L1199.0,391.0L1200.0,393.0L1201.0,394.7L1202.0,394.7L1203.0,394.7L1204.0,394.6L1205.0,394.5L1206.0,394.3L1207.0,394.1L1208.0,393.7L1209.0,393.1L1210.0,392.5L1211.0,391.2L1212.0,389.8L1213.0,388.5L1214.0,386.9L1215.0,385.3L1216.0,383.9L1217.0,382.7L1218.0,381.9L1218.8,381.5L1219.0,381.4L1220.0,381.7L1221.0,382.6L1222.0,385.0L1223.0,387.8L1224.0,389.1L1225.0,389.5L1226.0,390.6L1227.0,391.7L1228.0,392.2L1229.0,392.0L1230.0,391.8L1231.0,392.0L1232.0,393.5L1233.0,393.9L1234.0,393.0L1235.0,392.6L1236.0,392.7L1237.0,392.7L1238.0,393.0L1239.0,393.6L1240.0,394.1L1241.0,394.5L1242.0,394.7L1243.0,394.8L1244.0,394.8L1245.0,394.7L1246.0,394.6L1247.0,394.3L1248.0,393.8L1249.0,393.5L1250.0,393.5L1251.0,393.5L1252.0,394.1L1253.0,394.7L1254.0,394.3L1255.0,392.9L1256.0,392.1L1257.0,393.3L1258.0,394.4L1259.0,395.0L1260.0,395.3L1261.0,395.4L1262.0,395.4L1263.0,395.3L1264.0,395.2L1265.0,394.9L1266.0,394.6L1267.0,394.3L1268.0,393.6L1269.0,392.8L1270.0,391.6L1271.0,390.4L1272.0,390.7L1273.0,390.8L1274.0,390.8L1275.0,389.4L1276.0,387.5L1277.0,385.8L1278.0,384.8L1279.0,383.5L1280.0,380.7L1281.0,378.1L1282.0,376.6L1283.0,375.2L1284.0,374.0L1285.0,372.5L1285.6,372.0L1286.0,371.8L1287.0,372.2L1288.0,374.0L1289.0,376.2L1290.0,378.8L1291.0,380.4L1292.0,381.8L1293.0,384.0L1294.0,386.1L1295.0,388.0L1296.0,388.9L1297.0,389.2L1298.0,389.2L1299.0,390.0L1300.0,391.7L1301.0,393.4L1302.0,394.7L1303.0,394.0L1304.0,393.2L1305.0,392.4L1306.0,393.7L1307.0,395.1L1308.0,395.1L1309.0,393.5L1310.0,393.3L1311.0,394.2L1312.0,395.0L1313.0,394.3L1314.0,392.6L1315.0,392.9L1316.0,393.9L1317.0,393.8L1318.0,393.6L1319.0,393.4L1320.0,393.6L1321.0,393.7L1322.0,393.7L1323.0,393.7L1324.0,394.1L1325.0,394.8L1326.0,395.4L1327.0,395.6L1328.0,394.4L1329.0,393.7L1330.0,394.5L1331.0,395.3L1332.0,396.1L1333.0,395.8L1334.0,395.4L1335.0,395.1L1336.0,395.0L1337.0,395.5L1338.0,395.3L1339.0,394.4L1340.0,393.5L1341.0,393.9L1342.0,394.5L1343.0,395.0L1344.0,394.4L1345.0,393.5L1346.0,392.6L1347.0,393.1L1348.0,394.1L1349.0,394.5L1350.0,394.1L1351.0,393.8L1352.0,393.7L1353.0,394.9L1354.0,396.0L1355.0,396.1L1356.0,395.6L1357.0,395.6L1358.0,395.9L1359.0,396.1L1360.0,395.0L1361.0,393.5L1362.0,392.0L1363.0,392.3L1364.0,392.6L1365.0,392.9L1366.0,392.4L1367.0,391.3L1368.0,390.4L1369.0,390.6L1370.0,391.6L1371.0,391.6L1372.0,391.1L1373.0,390.7L1374.0,390.8L1375.0,391.1L1376.0,391.2L1377.0,390.8L1378.0,390.5L1379.0,390.6L1380.0,391.9L1381.0,392.6L1382.0,392.8L1383.0,392.8L1384.0,392.4L1385.0,391.5L1386.0,390.6L1387.0,389.8L1388.0,389.8L1389.0,389.7L1390.0,389.6L1391.0,389.2L1392.0,388.6L1393.0,388.1L1394.0,387.7L1395.0,387.6L1395.4,387.6L1396.0,387.8L1397.0,388.1L1398.0,388.2L1399.0,388.4L1400.0,389.0L1401.0,390.0L1402.0,391.0L1403.0,391.9L1404.0,391.7L1405.0,391.4L1406.0,392.0L1407.0,393.2L1408.0,394.4L1409.0,394.2L1410.0,393.7L1411.0,393.5L1412.0,394.6L1413.0,395.7L1414.0,395.5L1415.0,395.1L1416.0,394.6L1417.0,394.9L1418.0,396.1L1419.0,397.2L1420.0,397.5L1421.0,397.0L1422.0,396.5L1423.0,396.0L1424.0,396.1L1425.0,396.1L1426.0,396.1L1427.0,395.4L1428.0,394.7L1429.0,394.1L1430.0,394.9L1431.0,396.5L1432.0,398.0L1433.0,397.9L1434.0,397.6L1435.0,397.4L1436.0,397.2L1437.0,396.9L1438.0,397.1L1439.0,397.6L1440.0,397.1L1441.0,396.0L1442.0,395.0L1443.0,395.0L1444.0,396.2L1445.0,396.8L1446.0,396.6L1447.0,396.3L1448.0,396.1L1449.0,396.3L1450.0,396.6L1451.0,396.6L1452.0,396.7L1453.0,396.8L1454.0,395.6L1455.0,394.4L1456.0,393.1L1457.0,394.0L1458.0,395.5L1459.0,396.9L1460.0,397.1L1461.0,397.3L1462.0,397.3L1463.0,397.2L1464.0,397.1L1465.0,396.1L1466.0,394.9L1467.0,394.6L1468.0,395.8L1469.0,396.8L1470.0,396.1L1471.0,395.3L1472.0,394.7L1473.0,394.6L1474.0,394.5L1475.0,394.4L1476.0,394.5L1477.0,394.6L1478.0,395.2L1479.0,396.3L1480.0,397.3L1481.0,396.3L1482.0,395.1L1483.0,394.0L1484.0,395.2L1485.0,396.6L1486.0,396.4L1487.0,395.4L1488.0,394.3L1489.0,393.5L1490.0,394.4L1491.0,395.3L1492.0,395.9L1493.0,395.7L1494.0,395.6L1495.0,396.0L1496.0,396.1L1497.0,395.3L1498.0,394.8L1499.0,395.3L1500.0,395.9L1501.0,396.3L1502.0,396.7L1503.0,397.0L1504.0,397.3L1505.0,396.8L1506.0,396.5L1507.0,396.9L1508.0,397.3L1509.0,396.8L1510.0,396.4L1511.0,395.8L1512.0,395.2L1513.0,394.6L1514.0,395.6L1515.0,396.5L1516.0,396.7L1517.0,396.2L1518.0,395.7L1519.0,395.8L1520.0,395.9L1521.0,395.5L1522.0,395.1L1523.0,394.6L1524.0,394.8L1525.0,395.5L1526.0,396.3L1527.0,395.5L1528.0,394.6L1529.0,393.7L1530.0,394.1L1531.0,395.5L1532.0,395.5L1533.0,394.9L1534.0,394.4L1535.0,395.2L1536.0,395.9L1537.0,395.7L1538.0,394.8L1539.0,394.0L1540.0,393.9L1541.0,395.4L1542.0,396.9L1543.0,397.6L1544.0,396.1L1545.0,394.6L1546.0,394.5L1547.0,395.6L1548.0,396.3L1549.0,396.4L1550.0,396.5L1551.0,396.5L1552.0,396.5L1553.0,396.5L1554.0,396.5L1555.0,395.9L1556.0,395.3L1557.0,394.7L1558.0,395.2L1559.0,396.0L1560.0,396.7L1561.0,397.1L1562.0,396.2L1563.0,395.3L1564.0,395.0L1565.0,395.6L1566.0,396.3L1567.0,395.5L1568.0,394.7L1569.0,395.2L1570.0,395.9L1571.0,396.7L1572.0,396.6L1573.0,396.0L1574.0,395.4L1575.0,395.2L1576.0,395.9L1577.0,396.7L1578.0,396.8L1579.0,395.9L1580.0,395.1L1581.0,394.5L1582.0,395.1L1583.0,395.8L1584.0,395.9L1585.0,395.4L1586.0,394.9L1587.0,394.7L1588.0,395.8L1589.0,396.9L1590.0,397.6L1591.0,395.8L1592.0,394.1L1593.0,394.8L1594.0,395.9L1595.0,396.9L1596.0,396.5L1597.0,396.0L1598.0,395.6L1599.0,395.9L1600.0,396.2L1601.0,395.6L1602.0,395.0L1603.0,394.3L1604.0,394.2L1605.0,395.0L1606.0,395.8L1607.0,396.3L1608.0,394.9L1609.0,393.7L1610.0,395.2L1611.0,396.7L1612.0,395.2L1613.0,393.6L1614.0,394.7L1615.0,395.9L1616.0,397.0L1617.0,396.4L1618.0,394.5L1619.0,394.0L1620.0,394.8L1621.0,395.7L1622.0,396.3L1623.0,395.5L1624.0,394.7L1625.0,394.6L1626.0,395.4L1627.0,395.6L1628.0,395.4L1629.0,395.1L1630.0,394.4L1631.0,393.8L1632.0,393.8L1633.0,393.8L1634.0,393.8L1635.0,394.7L1636.0,395.8L1637.0,396.0L1638.0,395.3L1639.0,395.0L1640.0,395.5L1641.0,395.9L1642.0,396.4L1643.0,395.4L1644.0,394.3L1645.0,393.7L1646.0,395.3L1647.0,396.3L1648.0,395.3L1649.0,394.3L1650.0,393.3L1651.0,393.2L1652.0,393.4L1653.0,393.6L1654.0,393.7L1655.0,393.8" fill="none" stroke="#ff2020" stroke-width="3.0" stroke-linejoin="miter" stroke-miterlimit="3"/>
<path d="M124.0,210.5L125.0,208.3L126.0,206.2L127.0,205.0L128.0,206.4L129.0,207.7L130.0,209.0L131.0,207.6L132.0,205.4L133.0,205.1L134.0,205.4L135.0,205.8L136.0,205.8L137.0,204.4L138.0,203.0L139.0,205.0L140.0,207.7L141.0,209.2L142.0,207.5L143.0,205.8L144.0,204.1L145.0,203.8L146.0,203.5L147.0,202.9L148.0,202.1L149.0,201.3L150.0,202.9L151.0,205.6L152.0,204.6L153.0,202.6L154.0,200.7L155.0,201.5L156.0,203.8L157.0,206.1L158.0,203.8L159.0,201.1L160.0,200.5L161.0,202.3L162.0,204.1L163.0,204.7L164.0,202.0L165.0,199.4L166.0,200.4L167.0,201.7L168.0,201.8L169.0,199.3L170.0,198.0L171.0,200.0L172.0,202.0L173.0,200.1L174.0,196.9L175.0,197.1L176.0,199.7L177.0,201.0L178.0,199.3L179.0,197.6L180.0,196.5L181.0,198.9L182.0,201.3L183.0,201.0L184.0,200.3L185.0,199.8L186.0,200.7L187.0,201.5L188.0,202.4L189.0,201.3L190.0,199.2L191.0,197.0L192.0,195.2L193.0,197.8L194.0,200.5L195.0,203.2L196.0,200.8L197.0,198.2L198.0,196.5L199.0,198.4L200.0,200.3L201.0,198.9L202.0,197.2L203.0,196.3L204.0,195.5L205.0,194.7L206.0,194.2L207.0,194.3L208.0,194.5L209.0,195.7L210.0,197.9L211.0,198.0L212.0,196.4L213.0,194.8L214.0,194.2L215.0,194.3L216.0,194.4L217.0,194.0L218.0,193.0L219.0,192.0L220.0,192.0L221.0,193.1L222.0,194.2L223.0,195.2L224.0,195.1L225.0,195.5L226.0,198.2L227.0,200.9L228.0,201.2L229.0,198.4L230.0,195.6L231.0,196.6L232.0,198.6L233.0,196.8L234.0,194.6L235.0,192.4L236.0,194.2L237.0,196.3L238.0,198.3L239.0,198.5L240.0,197.4L241.0,196.3L242.0,196.6L243.0,197.4L244.0,197.2L245.0,195.9L246.0,194.5L247.0,193.5L248.0,193.9L249.0,194.3L250.0,195.2L251.0,196.6L252.0,198.0L253.0,198.3L254.0,198.2L255.0,198.2L256.0,196.8L257.0,194.5L258.0,194.5L259.0,196.8L260.0,199.1L261.0,200.9L262.0,200.5L263.0,200.2L264.0,199.8L265.0,199.6L266.0,199.3L267.0,199.0L268.0,197.9L269.0,196.7L270.0,195.5L271.0,194.3L272.0,193.0L273.0,192.8L274.0,193.2L275.0,195.0L276.0,198.5L277.0,199.1L278.0,196.9L279.0,194.7L280.0,193.0L281.0,194.1L282.0,194.7L283.0,194.8L284.0,192.7L285.0,189.7L286.0,186.3L287.0,183.7L288.0,182.7L288.5,182.9L289.0,183.7L290.0,185.1L291.0,186.7L292.0,189.4L293.0,193.4L294.0,195.3L295.0,195.7L296.0,195.6L297.0,196.6L298.0,197.9L299.0,199.2L300.0,198.6L301.0,196.8L302.0,195.0L303.0,194.4L304.0,196.8L305.0,199.2L306.0,199.8L307.0,200.4L308.0,200.6L309.0,200.8L310.0,201.0L311.0,200.0L312.0,198.9L313.0,197.7L314.0,197.7L315.0,198.3L316.0,199.0L317.0,199.5L318.0,198.5L319.0,197.5L320.0,199.7L321.0,202.0L322.0,202.8L323.0,200.8L324.0,198.9L325.0,196.9L326.0,198.6L327.0,200.6L328.0,201.6L329.0,201.2L330.0,200.7L331.0,201.4L332.0,203.1L333.0,202.6L334.0,201.0L335.0,199.4L336.0,199.6L337.0,200.7L338.0,201.9L339.0,202.5L340.0,201.3L341.0,200.0L342.0,198.7L343.0,200.4L344.0,202.3L345.0,204.2L346.0,204.3L347.0,202.7L348.0,201.2L349.0,200.5L350.0,200.5L351.0,200.6L352.0,200.8L353.0,201.0L354.0,201.4L355.0,203.7L356.0,206.0L357.0,204.1L358.0,201.9L359.0,199.7L360.0,202.2L361.0,207.4L362.0,207.2L363.0,204.9L364.0,202.6L365.0,202.7L366.0,206.0L367.0,207.4L368.0,205.0L369.0,202.7L370.0,204.5L371.0,207.0L372.0,207.3L373.0,205.3L374.0,203.3L375.0,203.0L376.0,204.8L377.0,206.0L378.0,205.6L379.0,205.1L380.0,206.9L381.0,209.2L382.0,206.6L383.0,204.1L384.0,205.6L385.0,208.6L386.0,210.5L387.0,207.2L388.0,204.9L389.0,206.8L390.0,208.8L391.0,209.9L392.0,208.2L393.0,206.6L394.0,207.9L395.0,210.3L396.0,212.6L397.0,213.1L398.0,212.6L399.0,212.1L400.0,211.7L401.0,211.4L402.0,211.0L403.0,209.6L404.0,208.2L405.0,206.8L406.0,207.7L407.0,209.4L408.0,211.2L409.0,210.7L410.0,209.6L411.0,208.6L412.0,208.9L413.0,210.6L414.0,211.8L415.0,210.1L416.0,208.3L417.0,207.9L418.0,210.2L419.0,211.8L420.0,210.8L421.0,209.8L422.0,208.8L423.0,209.8L424.0,212.1L425.0,212.6L426.0,209.7L427.0,207.5L428.0,211.0L429.0,213.6L430.0,211.5L431.0,209.3L432.0,210.4L433.0,211.9L434.0,213.4L435.0,212.7L436.0,211.1L437.0,209.5L438.0,210.6L439.0,213.1L440.0,213.1L441.0,211.8L442.0,210.8L443.0,211.9L444.0,213.0L445.0,212.9L446.0,211.9L447.0,210.9L448.0,211.6L449.0,213.3L450.0,215.0L451.0,213.8L452.0,212.5L453.0,211.5L454.0,212.8L455.0,214.0L456.0,215.2L457.0,215.3L458.0,215.3L459.0,215.2L460.0,215.9L461.0,216.9L462.0,217.1L463.0,215.1L464.0,213.1L465.0,213.1L466.0,214.2L467.0,214.9L468.0,213.8L469.0,213.3L470.0,215.8L471.0,218.1L472.0,216.3L473.0,214.5L474.0,214.3L475.0,214.9L476.0,215.3L477.0,215.6L478.0,215.9L479.0,217.1L480.0,218.2L481.0,219.0L482.0,218.5L483.0,217.9L484.0,217.3L485.0,216.8L486.0,216.4L487.0,216.0L488.0,216.2L489.0,217.3L490.0,218.4L491.0,219.3L492.0,219.5L493.0,219.8L494.0,220.0L495.0,218.0L496.0,216.0L497.0,214.6L498.0,216.7L499.0,218.8L500.0,220.8L501.0,219.8L502.0,217.4L503.0,215.0L504.0,215.6L505.0,217.8L506.0,220.1L507.0,219.1L508.0,218.0L509.0,219.4L510.0,220.8L511.0,220.9L512.0,218.5L513.0,216.6L514.0,218.0L515.0,219.2L516.0,220.3L517.0,221.3L518.0,221.2L519.0,219.3L520.0,217.3L521.0,215.6L522.0,214.7L523.0,213.8L524.0,214.8L525.0,215.8L526.0,216.2L527.0,213.6L528.0,208.8L529.0,202.1L530.0,194.0L531.0,181.8L532.0,169.0L532.6,165.9L533.0,167.1L534.0,177.9L535.0,190.9L536.0,201.3L537.0,208.5L538.0,211.8L539.0,213.1L540.0,214.2L541.0,215.9L542.0,217.3L543.0,218.5L544.0,219.7L545.0,220.6L546.0,219.1L547.0,217.6L548.0,216.0L549.0,216.8L550.0,217.6L551.0,219.2L552.0,220.9L553.0,221.1L554.0,218.4L555.0,216.3L556.0,217.7L557.0,219.0L558.0,220.2L559.0,218.7L560.0,216.7L561.0,215.6L562.0,216.5L563.0,217.4L564.0,218.0L565.0,216.8L566.0,214.9L567.0,212.8L568.0,210.8L569.0,208.2L570.0,204.2L571.0,198.8L572.0,190.7L573.0,179.3L574.0,165.5L575.0,153.8L575.7,150.8L576.0,151.5L577.0,160.4L578.0,174.3L579.0,187.3L580.0,197.5L581.0,204.8L582.0,209.2L583.0,211.4L584.0,212.9L585.0,214.3L586.0,215.3L587.0,216.0L588.0,216.3L589.0,216.5L590.0,216.5L591.0,219.1L592.0,222.4L593.0,224.7L594.0,224.9L595.0,225.0L596.0,225.0L597.0,224.8L598.0,224.5L599.0,223.0L600.0,221.2L601.0,220.9L602.0,222.6L603.0,224.4L604.0,223.9L605.0,222.4L606.0,223.3L607.0,224.6L608.0,225.4L609.0,224.5L610.0,223.5L611.0,222.6L612.0,222.7L613.0,223.4L614.0,223.8L615.0,223.3L616.0,222.7L617.0,222.7L618.0,224.9L619.0,227.2L620.0,226.6L621.0,223.9L622.0,222.1L623.0,221.9L624.0,221.6L625.0,221.4L626.0,222.1L627.0,222.8L628.0,223.5L629.0,224.3L630.0,224.2L631.0,223.9L632.0,223.6L633.0,223.5L634.0,224.4L635.0,225.3L636.0,224.6L637.0,223.7L638.0,222.9L639.0,223.3L640.0,224.7L641.0,226.0L642.0,225.5L643.0,224.0L644.0,222.6L645.0,222.6L646.0,224.4L647.0,226.2L648.0,226.8L649.0,226.5L650.0,226.1L651.0,225.6L652.0,225.1L653.0,224.6L654.0,223.2L655.0,222.0L656.0,225.1L657.0,228.3L658.0,230.1L659.0,230.2L660.0,230.2L661.0,230.0L662.0,229.7L663.0,229.0L664.0,227.3L665.0,226.5L666.0,228.2L667.0,229.6L668.0,227.6L669.0,225.7L670.0,224.3L671.0,224.4L672.0,224.5L673.0,225.0L674.0,225.7L675.0,226.3L676.0,226.7L677.0,227.0L678.0,227.3L679.0,226.7L680.0,225.6L681.0,224.4L682.0,224.2L683.0,225.8L684.0,227.3L685.0,228.4L686.0,226.9L687.0,225.5L688.0,225.1L689.0,227.1L690.0,229.1L691.0,227.4L692.0,225.7L693.0,224.0L694.0,225.2L695.0,227.1L696.0,226.9L697.0,224.7L698.0,224.5L699.0,225.6L700.0,226.7L701.0,227.7L702.0,226.3L703.0,225.0L704.0,224.5L705.0,226.2L706.0,227.9L707.0,229.4L708.0,228.8L709.0,228.2L710.0,228.0L711.0,228.7L712.0,229.4L713.0,228.7L714.0,226.2L715.0,226.6L716.0,229.3L717.0,230.0L718.0,228.4L719.0,226.7L720.0,226.4L721.0,227.9L722.0,229.4L723.0,229.3L724.0,228.1L725.0,227.6L726.0,227.7L727.0,227.7L728.0,227.8L729.0,228.0L730.0,228.2L731.0,228.3L732.0,228.4L733.0,228.7L734.0,230.0L735.0,231.0L736.0,230.7L737.0,230.5L738.0,230.1L739.0,228.9L740.0,227.7L741.0,228.4L742.0,229.8L743.0,230.5L744.0,230.9L745.0,230.9L746.0,230.8L747.0,229.2L748.0,227.1L749.0,227.0L750.0,228.5L751.0,230.0L752.0,229.0L753.0,227.5L754.0,226.3L755.0,227.0L756.0,227.6L757.0,228.3L758.0,228.3L759.0,227.9L760.0,227.5L761.0,227.4L762.0,228.7L763.0,230.0L764.0,231.4L765.0,230.8L766.0,230.2L767.0,229.5L768.0,228.9L769.0,228.3L770.0,227.8L771.0,227.8L772.0,228.2L773.0,228.5L774.0,229.0L775.0,230.7L776.0,231.6L777.0,230.3L778.0,229.3L779.0,229.0L780.0,228.7L781.0,229.5L782.0,230.4L783.0,230.8L784.0,231.0L785.0,231.2L786.0,231.6L787.0,231.9L788.0,232.0L789.0,231.9L790.0,231.2L791.0,229.8L792.0,228.5L793.0,229.1L794.0,229.6L795.0,230.5L796.0,231.3L797.0,232.2L798.0,232.2L799.0,232.2L800.0,232.2L801.0,231.6L802.0,231.0L803.0,230.7L804.0,232.8L805.0,234.0L806.0,232.3L807.0,230.6L808.0,230.0L809.0,230.0L810.0,229.9L811.0,230.0L812.0,230.4L813.0,231.3L814.0,232.7L815.0,233.9L816.0,233.5L817.0,233.2L818.0,233.4L819.0,233.1L820.0,231.3L821.0,229.9L822.0,231.3L823.0,232.7L824.0,232.6L825.0,231.5L826.0,230.3L827.0,231.3L828.0,232.5L829.0,233.6L830.0,233.4L831.0,231.8L832.0,230.8L833.0,233.3L834.0,234.7L835.0,233.6L836.0,232.5L837.0,231.5L838.0,232.6L839.0,233.5L840.0,232.4L841.0,231.6L842.0,233.1L843.0,234.5L844.0,236.0L845.0,236.1L846.0,235.5L847.0,234.9L848.0,234.1L849.0,233.0L850.0,231.9L851.0,231.5L852.0,231.1L853.0,233.1L854.0,235.2L855.0,235.5L856.0,234.2L857.0,233.1L858.0,234.1L859.0,235.1L860.0,236.0L861.0,235.6L862.0,234.5L863.0,233.9L864.0,234.8L865.0,235.3L866.0,234.2L867.0,233.2L868.0,232.2L869.0,232.6L870.0,233.5L871.0,234.3L872.0,233.5L873.0,232.5L874.0,233.1L875.0,234.1L876.0,233.5L877.0,232.6L878.0,232.2L879.0,234.2L880.0,235.6L881.0,234.7L882.0,233.8L883.0,233.4L884.0,234.3L885.0,235.2L886.0,235.1L887.0,233.6L888.0,232.8L889.0,232.6L890.0,232.4L891.0,232.5L892.0,233.5L893.0,234.4L894.0,235.3L895.0,234.5L896.0,233.7L897.0,232.9L898.0,232.8L899.0,233.3L900.0,233.7L901.0,234.2L902.0,234.8L903.0,235.4L904.0,235.1L905.0,234.1L906.0,233.6L907.0,234.0L908.0,233.9L909.0,233.7L910.0,234.0L911.0,234.4L912.0,234.8L913.0,234.8L914.0,233.7L915.0,232.4L916.0,231.4L917.0,231.1L918.0,230.7L919.0,229.9L920.0,228.6L921.0,227.0L922.0,226.0L923.0,226.2L924.0,227.1L925.0,228.5L926.0,229.3L927.0,230.4L928.0,231.7L929.0,232.8L930.0,232.8L931.0,232.4L932.0,233.4L933.0,234.6L934.0,235.8L935.0,235.4L936.0,234.9L937.0,234.6L938.0,235.4L939.0,236.1L940.0,236.1L941.0,235.4L942.0,234.6L943.0,235.5L944.0,236.5L945.0,237.3L946.0,236.7L947.0,236.0L948.0,235.3L949.0,235.3L950.0,236.0L951.0,236.7L952.0,236.2L953.0,235.6L954.0,235.0L955.0,235.6L956.0,236.9L957.0,236.2L958.0,234.7L959.0,233.8L960.0,234.8L961.0,235.8L962.0,236.5L963.0,237.1L964.0,237.6L965.0,237.0L966.0,235.4L967.0,234.4L968.0,234.7L969.0,235.0L970.0,235.4L971.0,235.9L972.0,236.3L973.0,236.4L974.0,235.7L975.0,234.9L976.0,234.6L977.0,235.6L978.0,236.6L979.0,236.3L980.0,234.1L981.0,234.1L982.0,236.6L983.0,236.2L984.0,234.1L985.0,233.5L986.0,235.1L987.0,235.7L988.0,234.8L989.0,233.8L990.0,232.8L991.0,233.4L992.0,234.3L993.0,233.1L994.0,231.9L995.0,232.1L996.0,233.3L997.0,233.1L997.6,232.5L998.0,232.1L999.0,231.1L1000.0,231.2L1001.0,232.0L1002.0,232.7L1003.0,233.6L1004.0,234.5L1005.0,235.5L1006.0,235.0L1007.0,234.3L1008.0,234.6L1009.0,235.5L1010.0,236.5L1011.0,236.0L1012.0,235.2L1013.0,234.3L1014.0,234.4L1015.0,235.3L1016.0,235.8L1017.0,234.9L1018.0,233.9L1019.0,235.4L1020.0,237.0L1021.0,238.6L1022.0,238.3L1023.0,237.0L1024.0,235.7L1025.0,236.0L1026.0,237.7L1027.0,238.4L1028.0,237.9L1029.0,237.5L1030.0,237.2L1031.0,237.3L1032.0,237.4L1033.0,237.5L1034.0,236.0L1035.0,234.4L1036.0,235.6L1037.0,237.4L1038.0,239.1L1039.0,237.3L1040.0,235.1L1041.0,235.1L1042.0,235.8L1043.0,235.7L1044.0,235.0L1045.0,234.3L1046.0,235.3L1047.0,236.8L1048.0,238.0L1049.0,237.0L1050.0,236.1L1051.0,235.4L1052.0,235.1L1053.0,234.8L1054.0,234.4L1055.0,233.7L1056.0,234.2L1057.0,235.8L1058.0,237.5L1059.0,238.3L1060.0,236.7L1061.0,235.2L1062.0,236.1L1063.0,237.2L1064.0,238.2L1065.0,237.7L1066.0,235.9L1067.0,234.1L1068.0,234.0L1069.0,234.4L1070.0,234.7L1071.0,235.0L1072.0,235.4L1073.0,236.0L1074.0,236.6L1075.0,236.4L1076.0,235.8L1077.0,235.4L1078.0,236.3L1079.0,237.1L1080.0,237.4L1081.0,236.2L1082.0,235.0L1083.0,235.5L1084.0,237.3L1085.0,237.0L1086.0,235.9L1087.0,234.8L1088.0,234.7L1089.0,236.1L1090.0,236.5L1091.0,235.9L1092.0,235.3L1093.0,235.0L1094.0,235.7L1095.0,236.4L1096.0,237.2L1097.0,236.7L1098.0,236.3L1099.0,235.8L1100.0,235.8L1101.0,236.5L1102.0,237.1L1103.0,237.1L1104.0,236.6L1105.0,236.1L1106.0,235.7L1107.0,235.3L1108.0,235.3L1109.0,235.4L1110.0,235.7L1111.0,236.8L1112.0,238.0L1113.0,238.5L1114.0,237.3L1115.0,236.2L1116.0,236.3L1117.0,236.6L1118.0,236.9L1119.0,237.1L1120.0,237.2L1121.0,237.1L1122.0,237.0L1123.0,236.7L1124.0,235.8L1125.0,234.9L1126.0,234.9L1127.0,236.4L1128.0,237.9L1129.0,236.9L1130.0,235.4L1131.0,235.9L1132.0,236.8L1133.0,237.8L1134.0,238.3L1135.0,237.5L1136.0,236.7L1137.0,236.2L1138.0,236.5L1139.0,236.9L1140.0,237.2L1141.0,236.3L1142.0,235.3L1143.0,235.2L1144.0,236.0L1145.0,236.8L1146.0,237.6L1147.0,236.4L1148.0,235.1L1149.0,233.8L1150.0,234.4L1151.0,235.6L1152.0,236.8L1153.0,237.6L1154.0,236.2L1155.0,234.8L1156.0,235.7L1157.0,236.7L1158.0,236.8L1159.0,235.5L1160.0,234.3L1161.0,234.3L1162.0,234.6L1163.0,234.9L1164.0,233.9L1165.0,232.9L1166.0,233.5L1167.0,234.7L1168.0,234.1L1169.0,232.8L1170.0,231.6L1171.0,231.4L1172.0,231.2L1173.0,231.0L1174.0,230.7L1175.0,230.5L1176.0,230.5L1177.0,230.8L1178.0,231.1L1179.0,231.5L1180.0,230.3L1181.0,229.2L1181.7,228.9L1182.0,229.3L1183.0,230.5L1184.0,231.5L1185.0,231.1L1186.0,230.9L1187.0,230.6L1188.0,231.3L1189.0,232.1L1190.0,232.6L1191.0,232.2L1192.0,231.8L1193.0,233.0L1194.0,234.2L1195.0,234.4L1196.0,233.9L1197.0,233.4L1198.0,232.9L1199.0,232.9L1200.0,232.8L1201.0,232.7L1202.0,232.7L1203.0,232.9L1204.0,232.9L1205.0,233.9L1206.0,235.3L1207.0,235.7L1208.0,234.5L1209.0,233.3L1210.0,232.8L1211.0,234.1L1212.0,235.1L1213.0,233.9L1214.0,232.7L1215.0,232.9L1216.0,233.8L1217.0,234.9L1218.0,235.0L1219.0,235.1L1220.0,235.3L1221.0,235.6L1222.0,235.9L1223.0,235.6L1224.0,235.2L1225.0,234.7L1226.0,234.8L1227.0,235.7L1228.0,236.2L1229.0,235.9L1230.0,235.5L1231.0,235.7L1232.0,236.8L1233.0,236.7L1234.0,235.6L1235.0,235.9L1236.0,237.3L1237.0,237.9L1238.0,237.1L1239.0,236.2L1240.0,235.4L1241.0,235.8L1242.0,236.6L1243.0,237.3L1244.0,237.1L1245.0,236.4L1246.0,235.8L1247.0,236.0L1248.0,237.9L1249.0,238.2L1250.0,236.7L1251.0,235.1L1252.0,234.9L1253.0,236.6L1254.0,238.2L1255.0,238.0L1256.0,237.3L1257.0,237.0L1258.0,237.1L1259.0,237.3L1260.0,237.2L1261.0,236.3L1262.0,235.3L1263.0,234.9L1264.0,234.5L1265.0,234.4L1266.0,235.3L1267.0,236.3L1268.0,236.8L1269.0,237.3L1270.0,237.0L1271.0,235.6L1272.0,234.1L1273.0,233.8L1274.0,234.3L1275.0,233.9L1276.0,232.8L1277.0,231.7L1278.0,230.9L1279.0,230.1L1280.0,228.6L1281.0,227.0L1282.0,225.8L1283.0,226.2L1284.0,227.0L1285.0,228.2L1286.0,228.5L1287.0,228.6L1288.0,228.7L1289.0,230.4L1290.0,232.5L1291.0,234.7L1292.0,234.6L1293.0,234.4L1294.0,234.0L1295.0,235.0L1296.0,237.0L1297.0,237.5L1298.0,236.4L1299.0,236.3L1300.0,237.2L1301.0,238.1L1302.0,236.6L1303.0,234.9L1304.0,236.0L1305.0,237.2L1306.0,238.1L1307.0,236.9L1308.0,235.7L1309.0,234.7L1310.0,234.5L1311.0,234.5L1312.0,234.8L1313.0,235.1L1314.0,235.6L1315.0,236.9L1316.0,238.2L1317.0,238.7L1318.0,237.6L1319.0,236.6L1320.0,236.5L1321.0,236.8L1322.0,237.0L1323.0,236.9L1324.0,236.2L1325.0,235.5L1326.0,234.8L1327.0,236.4L1328.0,237.9L1329.0,238.5L1330.0,238.9L1331.0,239.0L1332.0,239.0L1333.0,239.0L1334.0,238.7L1335.0,237.4L1336.0,236.4L1337.0,236.4L1338.0,236.4L1339.0,236.4L1340.0,235.9L1341.0,235.3L1342.0,235.9L1343.0,237.1L1344.0,237.9L1345.0,237.4L1346.0,236.8L1347.0,236.7L1348.0,237.3L1349.0,237.9L1350.0,238.4L1351.0,237.1L1352.0,235.9L1353.0,235.8L1354.0,235.7L1355.0,236.1L1356.0,236.5L1357.0,236.9L1358.0,237.6L1359.0,238.4L1360.0,238.3L1361.0,237.2L1362.0,236.4L1363.0,237.4L1364.0,238.4L1365.0,239.4L1366.0,239.1L1367.0,238.1L1368.0,237.4L1369.0,237.8L1370.0,238.2L1371.0,238.3L1372.0,237.6L1373.0,236.9L1374.0,236.2L1375.0,236.3L1376.0,236.6L1377.0,236.9L1378.0,236.6L1379.0,235.8L1380.0,235.0L1381.0,235.0L1382.0,236.0L1383.0,236.9L1384.0,237.0L1385.0,235.5L1386.0,234.0L1387.0,232.8L1388.0,234.0L1389.0,235.1L1390.0,234.9L1391.0,234.4L1392.0,234.0L1393.0,234.1L1394.0,234.4L1395.0,234.8L1396.0,234.8L1397.0,234.8L1398.0,234.8L1399.0,234.9L1400.0,235.6L1401.0,236.3L1402.0,237.1L1403.0,237.3L1404.0,237.3L1405.0,237.3L1406.0,237.5L1407.0,238.1L1408.0,238.2L1409.0,237.5L1410.0,236.8L1411.0,237.7L1412.0,238.7L1413.0,239.1L1414.0,238.0L1415.0,236.9L1416.0,235.7L1417.0,236.8L1418.0,238.1L1419.0,238.6L1420.0,237.5L1421.0,236.6L1422.0,238.2L1423.0,239.3L1424.0,238.1L1425.0,236.9L1426.0,237.7L1427.0,238.7L1428.0,239.7L1429.0,238.5L1430.0,236.3L1431.0,237.8L1432.0,239.7L1433.0,239.0L1434.0,237.5L1435.0,237.2L1436.0,238.5L1437.0,239.9L1438.0,239.8L1439.0,238.8L1440.0,238.1L1441.0,238.9L1442.0,239.7L1443.0,240.4L1444.0,239.5L1445.0,238.2L1446.0,238.0L1447.0,238.4L1448.0,238.8L1449.0,239.1L1450.0,239.3L1451.0,239.5L1452.0,239.3L1453.0,238.9L1454.0,238.5L1455.0,238.3L1456.0,239.0L1457.0,239.6L1458.0,240.3L1459.0,240.6L1460.0,240.8L1461.0,240.1L1462.0,239.0L1463.0,237.9L1464.0,238.0L1465.0,239.0L1466.0,240.1L1467.0,240.1L1468.0,238.9L1469.0,237.8L1470.0,238.7L1471.0,239.5L1472.0,238.8L1473.0,238.1L1474.0,239.0L1475.0,240.0L1476.0,240.9L1477.0,239.8L1478.0,238.3L1479.0,238.3L1480.0,238.5L1481.0,238.4L1482.0,238.0L1483.0,237.9L1484.0,238.8L1485.0,239.7L1486.0,240.3L1487.0,239.2L1488.0,238.1L1489.0,239.0L1490.0,241.0L1491.0,240.8L1492.0,239.7L1493.0,239.2L1494.0,240.4L1495.0,241.5L1496.0,240.3L1497.0,238.8L1498.0,237.2L1499.0,238.0L1500.0,239.6L1501.0,240.3L1502.0,240.0L1503.0,239.7L1504.0,239.7L1505.0,240.4L1506.0,241.2L1507.0,241.1L1508.0,240.4L1509.0,239.7L1510.0,239.3L1511.0,240.1L1512.0,240.8L1513.0,241.4L1514.0,239.9L1515.0,238.5L1516.0,238.4L1517.0,239.6L1518.0,240.7L1519.0,240.0L1520.0,239.0L1521.0,238.3L1522.0,238.8L1523.0,239.4L1524.0,240.0L1525.0,239.2L1526.0,238.3L1527.0,238.1L1528.0,238.2L1529.0,238.2L1530.0,238.0L1531.0,237.9L1532.0,238.4L1533.0,239.5L1534.0,240.7L1535.0,239.8L1536.0,238.5L1537.0,237.3L1538.0,238.9L1539.0,240.5L1540.0,241.0L1541.0,239.2L1542.0,237.3L1543.0,237.9L1544.0,239.2L1545.0,240.5L1546.0,240.3L1547.0,239.5L1548.0,239.2L1549.0,239.9L1550.0,240.6L1551.0,240.8L1552.0,240.4L1553.0,239.9L1554.0,239.4L1555.0,238.6L1556.0,238.3L1557.0,239.0L1558.0,239.8L1559.0,240.3L1560.0,240.8L1561.0,241.4L1562.0,241.4L1563.0,240.5L1564.0,239.6L1565.0,238.7L1566.0,239.5L1567.0,240.5L1568.0,241.5L1569.0,241.7L1570.0,239.9L1571.0,239.0L1572.0,239.8L1573.0,240.5L1574.0,241.0L1575.0,240.3L1576.0,239.7L1577.0,239.0L1578.0,239.1L1579.0,239.8L1580.0,240.4L1581.0,240.7L1582.0,240.1L1583.0,239.5L1584.0,239.1L1585.0,239.9L1586.0,240.7L1587.0,241.4L1588.0,241.0L1589.0,240.6L1590.0,240.3L1591.0,240.8L1592.0,241.3L1593.0,241.5L1594.0,240.5L1595.0,239.4L1596.0,238.3L1597.0,238.9L1598.0,239.5L1599.0,239.9L1600.0,239.3L1601.0,238.8L1602.0,239.9L1603.0,240.9L1604.0,239.8L1605.0,238.8L1606.0,237.8L1607.0,238.1L1608.0,239.1L1609.0,240.1L1610.0,240.3L1611.0,239.6L1612.0,239.4L1613.0,240.2L1614.0,240.9L1615.0,241.6L1616.0,240.6L1617.0,239.7L1618.0,240.0L1619.0,240.8L1620.0,241.6L1621.0,241.8L1622.0,241.9L1623.0,241.8L1624.0,241.6L1625.0,241.3L1626.0,240.0L1627.0,238.9L1628.0,240.5L1629.0,241.7L1630.0,240.2L1631.0,239.1L1632.0,240.2L1633.0,240.5L1634.0,239.1L1635.0,238.4L1636.0,239.2L1637.0,240.0L1638.0,240.9L1639.0,239.9L1640.0,238.9L1641.0,238.8L1642.0,240.8L1643.0,242.0L1644.0,240.9L1645.0,239.7L1646.0,239.7L1647.0,241.0L1648.0,242.2L1649.0,241.7L1650.0,240.6L1651.0,239.6L1652.0,239.8L1653.0,240.0L1654.0,239.6L1655.0,239.2" fill="none" stroke="#3300ff" stroke-width="3.0" stroke-linejoin="miter" stroke-miterlimit="3"/>
<rect x="255.1" y="583.7" width="6" height="134.3" fill="#000"/>
<rect x="553.0" y="703.0" width="6" height="15.0" fill="#000"/>
<rect x="575.0" y="689.8" width="6" height="28.2" fill="#000"/>
<rect x="595.0" y="703.0" width="6" height="15.0" fill="#000"/>
<rect x="836.0" y="669.5" width="6" height="48.5" fill="#000"/>
<rect x="985.3" y="690.4" width="6" height="27.6" fill="#000"/>
<rect x="1015.0" y="690.4" width="6" height="27.6" fill="#000"/>
<rect x="1195.8" y="712.3" width="6" height="5.7" fill="#000"/>
<rect x="1209.9" y="698.5" width="6" height="19.5" fill="#000"/>
<rect x="1364.9" y="709.3" width="6" height="8.7" fill="#000"/>
<rect x="1404.2" y="709.3" width="6" height="8.7" fill="#000"/>
<rect x="1499.2" y="714.4" width="6" height="3.6" fill="#000"/>
<rect x="1525.0" y="703.5" width="6" height="14.5" fill="#000"/>
<rect x="1550.4" y="712.3" width="6" height="5.7" fill="#000"/>
<rect x="310.0" y="720.0" width="6" height="170.0" fill="#000"/>
<rect x="531.1" y="802.9" width="6" height="87.1" fill="#000"/>
<rect x="610.6" y="874.9" width="6" height="15.1" fill="#000"/>
<rect x="662.0" y="844.9" width="6" height="45.1" fill="#000"/>
<rect x="734.3" y="872.7" width="6" height="17.3" fill="#000"/>
<rect x="997.2" y="786.3" width="6" height="103.7" fill="#000"/>
<rect x="1055.6" y="855.3" width="6" height="34.7" fill="#000"/>
<rect x="1211.0" y="871.8" width="6" height="18.2" fill="#000"/>
<rect x="1244.9" y="871.8" width="6" height="18.2" fill="#000"/>
<rect x="1281.0" y="885.6" width="6" height="4.4" fill="#000"/>
<rect x="1371.8" y="855.3" width="6" height="34.7" fill="#000"/>
<rect x="1391.0" y="868.7" width="6" height="21.3" fill="#000"/>
<rect x="1458.2" y="885.6" width="6" height="4.4" fill="#000"/>
<rect x="1510.0" y="887.4" width="6" height="2.6" fill="#000"/>
<rect x="1563.0" y="883.0" width="6" height="7.0" fill="#000"/>
<rect x="1647.0" y="885.6" width="6" height="4.4" fill="#000"/>
<rect x="287.6" y="989.3" width="6" height="67.7" fill="#000"/>
<rect x="471.4" y="1012.1" width="6" height="44.9" fill="#000"/>
<rect x="573.3" y="904.7" width="6" height="152.3" fill="#000"/>
<rect x="930.4" y="988.8" width="6" height="68.2" fill="#000"/>
<rect x="1185.6" y="1038.7" width="6" height="18.3" fill="#000"/>
<rect x="1287.6" y="961.6" width="6" height="95.4" fill="#000"/>
<g fill="#000">
<rect x="122" y="23" width="4" height="1036" rx="1"/>
<rect x="1653" y="23" width="4" height="1036" rx="1"/>
<rect x="122" y="26" width="1535" height="3"/>
<rect x="122" y="1056" width="1535" height="3"/>
<rect x="122" y="717" width="1535" height="4"/>
<rect x="122" y="889" width="1535" height="4"/>
<rect x="249.6" y="1035" width="4" height="22"/>
<rect x="377.2" y="1035" width="4" height="22"/>
<rect x="504.8" y="1035" width="4" height="22"/>
<rect x="632.3" y="1035" width="4" height="22"/>
<rect x="759.9" y="1035" width="4" height="22"/>
<rect x="887.5" y="1035" width="4" height="22"/>
<rect x="1015.1" y="1035" width="4" height="22"/>
<rect x="1142.7" y="1035" width="4" height="22"/>
<rect x="1270.3" y="1035" width="4" height="22"/>
<rect x="1397.8" y="1035" width="4" height="22"/>
<rect x="1525.4" y="1035" width="4" height="22"/>
<rect x="186.3" y="1046" width="3" height="11"/>
<rect x="313.9" y="1046" width="3" height="11"/>
<rect x="441.5" y="1046" width="3" height="11"/>
<rect x="569.0" y="1046" width="3" height="11"/>
<rect x="696.6" y="1046" width="3" height="11"/>
<rect x="824.2" y="1046" width="3" height="11"/>
<rect x="951.8" y="1046" width="3" height="11"/>
<rect x="1079.4" y="1046" width="3" height="11"/>
<rect x="1207.0" y="1046" width="3" height="11"/>
<rect x="1334.6" y="1046" width="3" height="11"/>
<rect x="1462.1" y="1046" width="3" height="11"/>
<rect x="1589.7" y="1046" width="3" height="11"/>
</g>
<g font-family="'Liberation Sans', Arial, sans-serif" font-size="55.3" text-anchor="middle" fill="#000">
<text x="124.0" y="1122.4">20</text>
<text x="251.6" y="1122.4">25</text>
<text x="379.2" y="1122.4">30</text>
<text x="506.8" y="1122.4">35</text>
<text x="634.3" y="1122.4">40</text>
<text x="761.9" y="1122.4">45</text>
<text x="889.5" y="1122.4">50</text>
<text x="1017.1" y="1122.4">55</text>
<text x="1144.7" y="1122.4">60</text>
<text x="1272.3" y="1122.4">65</text>
<text x="1399.8" y="1122.4">70</text>
<text x="1527.4" y="1122.4">75</text>
<text x="1655.0" y="1122.4">80</text>
</g>
<text x="725.6" y="1219.0" font-family="'Liberation Sans', Arial, sans-serif" font-size="85" fill="#000" >2</text>
<text transform="translate(772.9,1219.2) scale(1.175,1)" x="0" y="0" font-family="'Liberation Serif', 'Times New Roman', serif" font-size="74.6" fill="#000">θ</text>
<text x="813.0" y="1219.0" font-family="'Liberation Sans', Arial, sans-serif" font-size="83" fill="#000" >(degree)</text>
<text transform="translate(82,703.9) rotate(-90)" x="0" y="0" font-family="'Liberation Sans', Arial, sans-serif" font-size="82.25" fill="#000">Intensity(a.u.)</text>
<text x="132.5" y="86.0" font-family="'Liberation Sans', Arial, sans-serif" font-size="55.6" fill="#000" >H-TiO</text>
<text x="280.0" y="107.0" font-family="'Liberation Sans', Arial, sans-serif" font-size="35.5" fill="#000" >2</text>
<text x="297.5" y="86.0" font-family="'Liberation Sans', Arial, sans-serif" font-size="55.6" fill="#000" >-PEDOT</text>
<text x="134.7" y="288.0" font-family="'Liberation Sans', Arial, sans-serif" font-size="55.4" fill="#000" >H-TiO</text>
<text x="282.1" y="310.0" font-family="'Liberation Sans', Arial, sans-serif" font-size="35.8" fill="#000" >2</text>
<text x="129.5" y="451.0" font-family="'Liberation Sans', Arial, sans-serif" font-size="55.4" fill="#000" >TiO</text>
<text x="218.2" y="473.0" font-family="'Liberation Sans', Arial, sans-serif" font-size="35.4" fill="#000" >2</text>
<text x="1103.1" y="626.8" font-family="'Liberation Sans', Arial, sans-serif" font-size="50.75" fill="#000" >Anatase</text>
<text x="1314.7" y="626.9" font-family="'Liberation Sans', Arial, sans-serif" font-size="50.83" fill="#000" >PDF#21-1272</text>
<text x="1134.7" y="784.9" font-family="'Liberation Sans', Arial, sans-serif" font-size="51.08" fill="#000" >Rutiel</text>
<text x="1307.0" y="793.0" font-family="'Liberation Sans', Arial, sans-serif" font-size="51.05" fill="#000" >PDF#21-1276</text>
<text x="1201.3" y="954.9" font-family="'Liberation Sans', Arial, sans-serif" font-size="54.55" fill="#000" >SnO</text>
<text x="1311.0" y="976.9" font-family="'Liberation Sans', Arial, sans-serif" font-size="35.8" fill="#000" >2</text>
<text x="1326.7" y="946.8" font-family="'Liberation Sans', Arial, sans-serif" font-size="51.17" fill="#000" >PDF#46-1088</text>
<text x="1488.0" y="102.9" font-family="'Liberation Serif', 'Times New Roman', serif" font-size="47.5" fill="#000" stroke="#fff" stroke-width="0.3">#</text>
<text x="1524.6" y="101.9" font-family="'Liberation Sans', Arial, sans-serif" font-size="51.5" fill="#000" >TiO</text>
<text x="1606.5" y="121.9" font-family="'Liberation Sans', Arial, sans-serif" font-size="31" fill="#000" >2</text>
<text x="1489.2" y="181.0" font-family="IPAGothic, 'DejaVu Serif', sans-serif" font-size="40" fill="#000" stroke="#fff" stroke-width="0.4">*</text>
<text x="1526.4" y="182.2" font-family="'Liberation Sans', Arial, sans-serif" font-size="50.4" fill="#000" >SnO</text>
<text x="1626.3" y="201.0" font-family="'Liberation Sans', Arial, sans-serif" font-size="31.6" fill="#000" >2</text>
<text transform="translate(553.9,137) rotate(-90)" x="0" y="0" font-family="'Liberation Sans', Arial, sans-serif" font-size="45.4" fill="#000">(101)</text>
<text transform="translate(1018,152.4) rotate(-90)" x="0" y="0" font-family="'Liberation Sans', Arial, sans-serif" font-size="45.4" fill="#000">(211)</text>
<text transform="translate(1186,161.7) rotate(-90)" x="0" y="0" font-family="'Liberation Sans', Arial, sans-serif" font-size="45.4" fill="#000">(002)</text>
<text transform="translate(1239.9,161.7) rotate(-90)" x="0" y="0" font-family="'Liberation Sans', Arial, sans-serif" font-size="45.4" fill="#000">(204)</text>
<text transform="translate(1412,167.7) rotate(-90)" x="0" y="0" font-family="'Liberation Sans', Arial, sans-serif" font-size="45.4" fill="#000">(112)</text>
<text x="517.5" y="176.5" font-family="'Liberation Serif', 'Times New Roman', serif" font-size="60" fill="#000" stroke="#fff" stroke-width="0.4">#</text>
<text x="984.5" y="207.2" font-family="'Liberation Serif', 'Times New Roman', serif" font-size="60" fill="#000" stroke="#fff" stroke-width="0.4">#</text>
<text x="1168.5" y="213.5" font-family="'Liberation Serif', 'Times New Roman', serif" font-size="60" fill="#000" stroke="#fff" stroke-width="0.4">#</text>
<text x="1204.5" y="215.2" font-family="'Liberation Serif', 'Times New Roman', serif" font-size="60" fill="#000" stroke="#fff" stroke-width="0.4">#</text>
<text x="1384.5" y="216.5" font-family="'Liberation Serif', 'Times New Roman', serif" font-size="60" fill="#000" stroke="#fff" stroke-width="0.4">#</text>
<text x="521.5" y="281.5" font-family="'Liberation Serif', 'Times New Roman', serif" font-size="60" fill="#000" stroke="#fff" stroke-width="0.4">#</text>
<text x="986.5" y="368.7" font-family="'Liberation Serif', 'Times New Roman', serif" font-size="60" fill="#000" stroke="#fff" stroke-width="0.4">#</text>
<text x="1170.7" y="377.3" font-family="'Liberation Serif', 'Times New Roman', serif" font-size="60" fill="#000" stroke="#fff" stroke-width="0.4">#</text>
<text x="1208.6" y="373.8" font-family="'Liberation Serif', 'Times New Roman', serif" font-size="60" fill="#000" stroke="#fff" stroke-width="0.4">#</text>
<text x="1388.6" y="377.3" font-family="'Liberation Serif', 'Times New Roman', serif" font-size="60" fill="#000" stroke="#fff" stroke-width="0.4">#</text>
<text x="527.8" y="464.0" font-family="'Liberation Serif', 'Times New Roman', serif" font-size="60" fill="#000" stroke="#fff" stroke-width="0.4">#</text>
<text x="985.8" y="535.5" font-family="'Liberation Serif', 'Times New Roman', serif" font-size="60" fill="#000" stroke="#fff" stroke-width="0.4">#</text>
<text x="1169.1" y="535.9" font-family="'Liberation Serif', 'Times New Roman', serif" font-size="60" fill="#000" stroke="#fff" stroke-width="0.4">#</text>
<text x="1204.3" y="535.9" font-family="'Liberation Serif', 'Times New Roman', serif" font-size="60" fill="#000" stroke="#fff" stroke-width="0.4">#</text>
<text x="1385.6" y="542.2" font-family="'Liberation Serif', 'Times New Roman', serif" font-size="60" fill="#000" stroke="#fff" stroke-width="0.4">#</text>
<text x="279.2" y="187.6" font-family="IPAGothic, 'DejaVu Serif', sans-serif" font-size="49" fill="#000" stroke="#fff" stroke-width="0.3">*</text>
<text x="563.2" y="155.3" font-family="IPAGothic, 'DejaVu Serif', sans-serif" font-size="49" fill="#000" stroke="#fff" stroke-width="0.3">*</text>
<text x="923.2" y="218.6" font-family="IPAGothic, 'DejaVu Serif', sans-serif" font-size="49" fill="#000" stroke="#fff" stroke-width="0.3">*</text>
<text x="1271.8" y="215.0" font-family="IPAGothic, 'DejaVu Serif', sans-serif" font-size="49" fill="#000" stroke="#fff" stroke-width="0.3">*</text>
<text x="274.2" y="351.6" font-family="IPAGothic, 'DejaVu Serif', sans-serif" font-size="49" fill="#000" stroke="#fff" stroke-width="0.3">*</text>
<text x="564.2" y="271.5" font-family="IPAGothic, 'DejaVu Serif', sans-serif" font-size="49" fill="#000" stroke="#fff" stroke-width="0.3">*</text>
<text x="918.6" y="351.6" font-family="IPAGothic, 'DejaVu Serif', sans-serif" font-size="49" fill="#000" stroke="#fff" stroke-width="0.3">*</text>
<text x="1273.2" y="381.1" font-family="IPAGothic, 'DejaVu Serif', sans-serif" font-size="49" fill="#000" stroke="#fff" stroke-width="0.3">*</text>
<text x="273.4" y="477.5" font-family="IPAGothic, 'DejaVu Serif', sans-serif" font-size="49" fill="#000" stroke="#fff" stroke-width="0.3">*</text>
<text x="569.2" y="466.5" font-family="IPAGothic, 'DejaVu Serif', sans-serif" font-size="49" fill="#000" stroke="#fff" stroke-width="0.3">*</text>
<text x="921.1" y="532.3" font-family="IPAGothic, 'DejaVu Serif', sans-serif" font-size="49" fill="#000" stroke="#fff" stroke-width="0.3">*</text>
<text x="1279.3" y="550.1" font-family="IPAGothic, 'DejaVu Serif', sans-serif" font-size="49" fill="#000" stroke="#fff" stroke-width="0.3">*</text>
</svg></body></html>
